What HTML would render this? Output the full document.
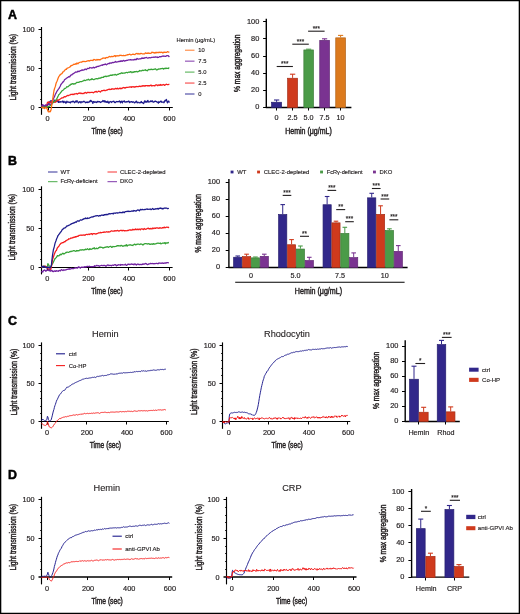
<!DOCTYPE html>
<html><head><meta charset="utf-8"><title>Figure</title>
<style>
html,body{margin:0;padding:0;background:#fff;width:520px;height:614px;overflow:hidden;}
svg{display:block;font-family:"Liberation Sans", sans-serif;will-change:transform;}
</style></head><body>
<svg width="520" height="614" viewBox="0 0 520 614">
<rect x="0" y="0" width="520" height="614" fill="#fff"/>
<path d="M0 0H520V614H0Z M1.3 1.3V612.7H518.7V1.3Z" fill="#000" fill-rule="evenodd"/>
<text x="8.1" y="19.2" font-size="12.4" text-anchor="start" fill="#000" stroke="#000" stroke-width="0.5" font-weight="bold">A</text>
<text x="8.1" y="165.2" font-size="12.4" text-anchor="start" fill="#000" stroke="#000" stroke-width="0.5" font-weight="bold">B</text>
<text x="8.1" y="324.7" font-size="12.4" text-anchor="start" fill="#000" stroke="#000" stroke-width="0.5" font-weight="bold">C</text>
<text x="8.1" y="478.7" font-size="12.4" text-anchor="start" fill="#000" stroke="#000" stroke-width="0.5" font-weight="bold">D</text>
<line x1="41.5" y1="27" x2="41.5" y2="114.8" stroke="#000" stroke-width="1.15"/>
<line x1="38.5" y1="107.5" x2="172.8" y2="107.5" stroke="#000" stroke-width="1.15"/>
<line x1="40.1" y1="99.5" x2="41.5" y2="99.5" stroke="#000" stroke-width="0.9"/>
<line x1="40.1" y1="91.5" x2="41.5" y2="91.5" stroke="#000" stroke-width="0.9"/>
<line x1="40.1" y1="83.5" x2="41.5" y2="83.5" stroke="#000" stroke-width="0.9"/>
<line x1="40.1" y1="76.5" x2="41.5" y2="76.5" stroke="#000" stroke-width="0.9"/>
<line x1="38.5" y1="68.5" x2="41.5" y2="68.5" stroke="#000" stroke-width="1"/>
<line x1="40.1" y1="60.5" x2="41.5" y2="60.5" stroke="#000" stroke-width="0.9"/>
<line x1="40.1" y1="52.5" x2="41.5" y2="52.5" stroke="#000" stroke-width="0.9"/>
<line x1="40.1" y1="45.5" x2="41.5" y2="45.5" stroke="#000" stroke-width="0.9"/>
<line x1="40.1" y1="37.5" x2="41.5" y2="37.5" stroke="#000" stroke-width="0.9"/>
<line x1="38.5" y1="29.5" x2="41.5" y2="29.5" stroke="#000" stroke-width="1"/>
<line x1="48.5" y1="107.5" x2="48.5" y2="110.5" stroke="#000" stroke-width="1"/>
<text x="47.6" y="120.8" font-size="7.35" text-anchor="middle" fill="#231f20" stroke="#231f20" stroke-width="0.18">0</text>
<line x1="88.5" y1="107.5" x2="88.5" y2="110.5" stroke="#000" stroke-width="1"/>
<text x="88.8" y="120.8" font-size="7.35" text-anchor="middle" fill="#231f20" stroke="#231f20" stroke-width="0.18">200</text>
<line x1="128.5" y1="107.5" x2="128.5" y2="110.5" stroke="#000" stroke-width="1"/>
<text x="129.1" y="120.8" font-size="7.35" text-anchor="middle" fill="#231f20" stroke="#231f20" stroke-width="0.18">400</text>
<line x1="169.5" y1="107.5" x2="169.5" y2="110.5" stroke="#000" stroke-width="1"/>
<text x="169.4" y="120.8" font-size="7.35" text-anchor="middle" fill="#231f20" stroke="#231f20" stroke-width="0.18">600</text>
<text x="34.5" y="109.6" font-size="7.25" text-anchor="end" fill="#231f20" stroke="#231f20" stroke-width="0.18">0</text>
<text x="34.5" y="70.95" font-size="7.25" text-anchor="end" fill="#231f20" stroke="#231f20" stroke-width="0.18">50</text>
<text x="34.5" y="32.3" font-size="7.25" text-anchor="end" fill="#231f20" stroke="#231f20" stroke-width="0.18">100</text>
<text x="107.15" y="133.6" font-size="8.4" text-anchor="middle" fill="#231f20" stroke="#231f20" stroke-width="0.44" textLength="31.4" lengthAdjust="spacingAndGlyphs">Time (sec)</text>
<text x="15.8" y="67.2" font-size="8.5" text-anchor="middle" fill="#231f20" stroke="#231f20" stroke-width="0.44" textLength="66.5" lengthAdjust="spacingAndGlyphs" transform="rotate(-90 15.8 67.2)">Light transmission (%)</text>
<text x="176.6" y="42" font-size="5.8" text-anchor="start" fill="#231f20" stroke="#231f20" stroke-width="0.15" textLength="38.5" lengthAdjust="spacingAndGlyphs">Hemin (μg/mL)</text>
<line x1="185" y1="50.2" x2="194.5" y2="50.2" stroke="#ff6b12" stroke-width="0.9"/>
<text x="198.3" y="52.2" font-size="5.8" text-anchor="start" fill="#231f20" stroke="#231f20" stroke-width="0.15">10</text>
<line x1="185" y1="61.15" x2="194.5" y2="61.15" stroke="#7020a0" stroke-width="0.9"/>
<text x="198.3" y="63.15" font-size="5.8" text-anchor="start" fill="#231f20" stroke="#231f20" stroke-width="0.15">7.5</text>
<line x1="185" y1="72.1" x2="194.5" y2="72.1" stroke="#36a336" stroke-width="0.9"/>
<text x="198.3" y="74.1" font-size="5.8" text-anchor="start" fill="#231f20" stroke="#231f20" stroke-width="0.15">5.0</text>
<line x1="185" y1="83.05" x2="194.5" y2="83.05" stroke="#f51d1d" stroke-width="0.9"/>
<text x="198.3" y="85.05" font-size="5.8" text-anchor="start" fill="#231f20" stroke="#231f20" stroke-width="0.15">2.5</text>
<line x1="185" y1="94" x2="194.5" y2="94" stroke="#1c1a8c" stroke-width="0.9"/>
<text x="198.3" y="96" font-size="5.8" text-anchor="start" fill="#231f20" stroke="#231f20" stroke-width="0.15">0</text>
<line x1="266.3" y1="18.8" x2="266.3" y2="108" stroke="#000" stroke-width="1.4"/>
<line x1="265.8" y1="107.5" x2="351.4" y2="107.5" stroke="#000" stroke-width="1.4"/>
<line x1="263.1" y1="107.5" x2="266.3" y2="107.5" stroke="#000" stroke-width="1"/>
<text x="259.3" y="109.4" font-size="7.4" text-anchor="end" fill="#231f20" stroke="#231f20" stroke-width="0.18">0</text>
<line x1="263.1" y1="90.5" x2="266.3" y2="90.5" stroke="#000" stroke-width="1"/>
<text x="259.3" y="92.34" font-size="7.4" text-anchor="end" fill="#231f20" stroke="#231f20" stroke-width="0.18">20</text>
<line x1="263.1" y1="73.5" x2="266.3" y2="73.5" stroke="#000" stroke-width="1"/>
<text x="259.3" y="75.28" font-size="7.4" text-anchor="end" fill="#231f20" stroke="#231f20" stroke-width="0.18">40</text>
<line x1="263.1" y1="56.5" x2="266.3" y2="56.5" stroke="#000" stroke-width="1"/>
<text x="259.3" y="58.22" font-size="7.4" text-anchor="end" fill="#231f20" stroke="#231f20" stroke-width="0.18">60</text>
<line x1="263.1" y1="38.5" x2="266.3" y2="38.5" stroke="#000" stroke-width="1"/>
<text x="259.3" y="41.16" font-size="7.4" text-anchor="end" fill="#231f20" stroke="#231f20" stroke-width="0.18">80</text>
<line x1="263.1" y1="21.5" x2="266.3" y2="21.5" stroke="#000" stroke-width="1"/>
<text x="259.3" y="24.1" font-size="7.4" text-anchor="end" fill="#231f20" stroke="#231f20" stroke-width="0.18">100</text>
<line x1="276.5" y1="107.5" x2="276.5" y2="110.5" stroke="#000" stroke-width="1"/>
<line x1="292.5" y1="107.5" x2="292.5" y2="110.5" stroke="#000" stroke-width="1"/>
<line x1="308.5" y1="107.5" x2="308.5" y2="110.5" stroke="#000" stroke-width="1"/>
<line x1="324.5" y1="107.5" x2="324.5" y2="110.5" stroke="#000" stroke-width="1"/>
<line x1="340.5" y1="107.5" x2="340.5" y2="110.5" stroke="#000" stroke-width="1"/>
<rect x="271.65" y="102.25" width="9.9" height="5.25" fill="#31278a" stroke="#271f6e" stroke-width="0.7"/>
<line x1="276.6" y1="101.9" x2="276.6" y2="100" stroke="#31278a" stroke-width="1"/>
<line x1="273.95" y1="100" x2="279.25" y2="100" stroke="#31278a" stroke-width="1.1"/>
<rect x="287.65" y="78.25" width="9.9" height="29.25" fill="#cf3a1d" stroke="#a52e17" stroke-width="0.7"/>
<line x1="292.6" y1="77.9" x2="292.6" y2="74.2" stroke="#cf3a1d" stroke-width="1"/>
<line x1="289.95" y1="74.2" x2="295.25" y2="74.2" stroke="#cf3a1d" stroke-width="1.1"/>
<rect x="303.85" y="49.95" width="9.6" height="57.55" fill="#4b9b48" stroke="#3c7c39" stroke-width="0.7"/>
<line x1="308.65" y1="49.6" x2="308.65" y2="49.2" stroke="#4b9b48" stroke-width="1"/>
<line x1="306.07" y1="49.2" x2="311.22" y2="49.2" stroke="#4b9b48" stroke-width="1.1"/>
<rect x="319.75" y="40.35" width="9.7" height="67.15" fill="#7a3391" stroke="#612874" stroke-width="0.7"/>
<line x1="324.6" y1="40" x2="324.6" y2="38.8" stroke="#7a3391" stroke-width="1"/>
<line x1="322" y1="38.8" x2="327.2" y2="38.8" stroke="#7a3391" stroke-width="1.1"/>
<rect x="335.75" y="37.85" width="9.7" height="69.65" fill="#dc7a1d" stroke="#b06117" stroke-width="0.7"/>
<line x1="340.6" y1="37.5" x2="340.6" y2="35.4" stroke="#dc7a1d" stroke-width="1"/>
<line x1="338" y1="35.4" x2="343.2" y2="35.4" stroke="#dc7a1d" stroke-width="1.1"/>
<line x1="276.7" y1="66.5" x2="292.9" y2="66.5" stroke="#231f20" stroke-width="1.1"/>
<text x="284.8" y="66.1" font-size="6.3" text-anchor="middle" fill="#231f20" stroke="#231f20" stroke-width="0.15">***</text>
<line x1="292.3" y1="44.2" x2="308.8" y2="44.2" stroke="#231f20" stroke-width="1.1"/>
<text x="300.55" y="43.8" font-size="6.3" text-anchor="middle" fill="#231f20" stroke="#231f20" stroke-width="0.15">***</text>
<line x1="308.1" y1="31.2" x2="324.6" y2="31.2" stroke="#231f20" stroke-width="1.1"/>
<text x="316.35" y="30.8" font-size="6.3" text-anchor="middle" fill="#231f20" stroke="#231f20" stroke-width="0.15">***</text>
<text x="276.6" y="120.3" font-size="7.2" text-anchor="middle" fill="#231f20" stroke="#231f20" stroke-width="0.18">0</text>
<text x="292.6" y="120.3" font-size="7.2" text-anchor="middle" fill="#231f20" stroke="#231f20" stroke-width="0.18">2.5</text>
<text x="308.6" y="120.3" font-size="7.2" text-anchor="middle" fill="#231f20" stroke="#231f20" stroke-width="0.18">5.0</text>
<text x="324.6" y="120.3" font-size="7.2" text-anchor="middle" fill="#231f20" stroke="#231f20" stroke-width="0.18">7.5</text>
<text x="340.6" y="120.3" font-size="7.2" text-anchor="middle" fill="#231f20" stroke="#231f20" stroke-width="0.18">10</text>
<text x="308.5" y="133.5" font-size="8.4" text-anchor="middle" fill="#231f20" stroke="#231f20" stroke-width="0.44" textLength="46.5" lengthAdjust="spacingAndGlyphs">Hemin (μg/mL)</text>
<text x="239.8" y="63.2" font-size="8.6" text-anchor="middle" fill="#231f20" stroke="#231f20" stroke-width="0.44" textLength="57.5" lengthAdjust="spacingAndGlyphs" transform="rotate(-90 239.8 63.2)">% max aggregation</text>
<line x1="41.5" y1="186.3" x2="41.5" y2="274.4" stroke="#000" stroke-width="1.15"/>
<line x1="38.5" y1="267.5" x2="172.6" y2="267.5" stroke="#000" stroke-width="1.15"/>
<line x1="40.1" y1="259.5" x2="41.5" y2="259.5" stroke="#000" stroke-width="0.9"/>
<line x1="40.1" y1="251.5" x2="41.5" y2="251.5" stroke="#000" stroke-width="0.9"/>
<line x1="40.1" y1="243.5" x2="41.5" y2="243.5" stroke="#000" stroke-width="0.9"/>
<line x1="40.1" y1="236.5" x2="41.5" y2="236.5" stroke="#000" stroke-width="0.9"/>
<line x1="38.5" y1="228.5" x2="41.5" y2="228.5" stroke="#000" stroke-width="1"/>
<line x1="40.1" y1="220.5" x2="41.5" y2="220.5" stroke="#000" stroke-width="0.9"/>
<line x1="40.1" y1="212.5" x2="41.5" y2="212.5" stroke="#000" stroke-width="0.9"/>
<line x1="40.1" y1="205.5" x2="41.5" y2="205.5" stroke="#000" stroke-width="0.9"/>
<line x1="40.1" y1="197.5" x2="41.5" y2="197.5" stroke="#000" stroke-width="0.9"/>
<line x1="38.5" y1="189.5" x2="41.5" y2="189.5" stroke="#000" stroke-width="1"/>
<line x1="47.5" y1="267.5" x2="47.5" y2="270.5" stroke="#000" stroke-width="1"/>
<text x="47.2" y="280.7" font-size="7.35" text-anchor="middle" fill="#231f20" stroke="#231f20" stroke-width="0.18">0</text>
<line x1="88.5" y1="267.5" x2="88.5" y2="270.5" stroke="#000" stroke-width="1"/>
<text x="88.5" y="280.7" font-size="7.35" text-anchor="middle" fill="#231f20" stroke="#231f20" stroke-width="0.18">200</text>
<line x1="128.5" y1="267.5" x2="128.5" y2="270.5" stroke="#000" stroke-width="1"/>
<text x="129" y="280.7" font-size="7.35" text-anchor="middle" fill="#231f20" stroke="#231f20" stroke-width="0.18">400</text>
<line x1="169.5" y1="267.5" x2="169.5" y2="270.5" stroke="#000" stroke-width="1"/>
<text x="169.4" y="280.7" font-size="7.35" text-anchor="middle" fill="#231f20" stroke="#231f20" stroke-width="0.18">600</text>
<text x="34.4" y="269.5" font-size="7.25" text-anchor="end" fill="#231f20" stroke="#231f20" stroke-width="0.18">0</text>
<text x="34.4" y="230.8" font-size="7.25" text-anchor="end" fill="#231f20" stroke="#231f20" stroke-width="0.18">50</text>
<text x="34.4" y="192.1" font-size="7.25" text-anchor="end" fill="#231f20" stroke="#231f20" stroke-width="0.18">100</text>
<text x="106.95" y="293.5" font-size="8.4" text-anchor="middle" fill="#231f20" stroke="#231f20" stroke-width="0.44" textLength="31.4" lengthAdjust="spacingAndGlyphs">Time (sec)</text>
<text x="15.5" y="227.3" font-size="8.5" text-anchor="middle" fill="#231f20" stroke="#231f20" stroke-width="0.44" textLength="66.5" lengthAdjust="spacingAndGlyphs" transform="rotate(-90 15.5 227.3)">Light transmission (%)</text>
<line x1="48" y1="172" x2="57.5" y2="172" stroke="#1c1a8c" stroke-width="0.9"/>
<text x="60.5" y="173.6" font-size="6" text-anchor="start" fill="#231f20" stroke="#231f20" stroke-width="0.15">WT</text>
<line x1="107.5" y1="172" x2="117" y2="172" stroke="#f51d1d" stroke-width="0.9"/>
<text x="120" y="173.6" font-size="6" text-anchor="start" fill="#231f20" stroke="#231f20" stroke-width="0.15" textLength="45.5" lengthAdjust="spacingAndGlyphs">CLEC-2-depleted</text>
<line x1="48" y1="181.7" x2="57.5" y2="181.7" stroke="#36a336" stroke-width="0.9"/>
<text x="60.5" y="183.3" font-size="6" text-anchor="start" fill="#231f20" stroke="#231f20" stroke-width="0.15" textLength="37" lengthAdjust="spacingAndGlyphs">FcRγ-deficient</text>
<line x1="107.5" y1="181.7" x2="117" y2="181.7" stroke="#7020a0" stroke-width="0.9"/>
<text x="120" y="183.3" font-size="6" text-anchor="start" fill="#231f20" stroke="#231f20" stroke-width="0.15">DKO</text>
<line x1="228.9" y1="179" x2="228.9" y2="268" stroke="#000" stroke-width="1.4"/>
<line x1="228.4" y1="267.5" x2="407.6" y2="267.5" stroke="#000" stroke-width="1.4"/>
<line x1="225.7" y1="267.5" x2="228.9" y2="267.5" stroke="#000" stroke-width="1"/>
<text x="220" y="269.3" font-size="7.4" text-anchor="end" fill="#231f20" stroke="#231f20" stroke-width="0.18">0</text>
<line x1="225.7" y1="250.5" x2="228.9" y2="250.5" stroke="#000" stroke-width="1"/>
<text x="220" y="252.3" font-size="7.4" text-anchor="end" fill="#231f20" stroke="#231f20" stroke-width="0.18">20</text>
<line x1="225.7" y1="233.5" x2="228.9" y2="233.5" stroke="#000" stroke-width="1"/>
<text x="220" y="235.3" font-size="7.4" text-anchor="end" fill="#231f20" stroke="#231f20" stroke-width="0.18">40</text>
<line x1="225.7" y1="216.5" x2="228.9" y2="216.5" stroke="#000" stroke-width="1"/>
<text x="220" y="218.3" font-size="7.4" text-anchor="end" fill="#231f20" stroke="#231f20" stroke-width="0.18">60</text>
<line x1="225.7" y1="199.5" x2="228.9" y2="199.5" stroke="#000" stroke-width="1"/>
<text x="220" y="201.3" font-size="7.4" text-anchor="end" fill="#231f20" stroke="#231f20" stroke-width="0.18">80</text>
<line x1="225.7" y1="182.5" x2="228.9" y2="182.5" stroke="#000" stroke-width="1"/>
<text x="220" y="184.3" font-size="7.4" text-anchor="end" fill="#231f20" stroke="#231f20" stroke-width="0.18">100</text>
<rect x="233.65" y="257.25" width="8.15" height="10.25" fill="#31278a" stroke="#271f6e" stroke-width="0.7"/>
<line x1="237.73" y1="256.9" x2="237.73" y2="256" stroke="#31278a" stroke-width="1"/>
<line x1="235.43" y1="256" x2="240.03" y2="256" stroke="#31278a" stroke-width="1.1"/>
<rect x="242.5" y="256.65" width="8.15" height="10.85" fill="#cf3a1d" stroke="#a52e17" stroke-width="0.7"/>
<line x1="246.57" y1="256.3" x2="246.57" y2="254.2" stroke="#cf3a1d" stroke-width="1"/>
<line x1="244.27" y1="254.2" x2="248.88" y2="254.2" stroke="#cf3a1d" stroke-width="1.1"/>
<rect x="251.35" y="257.85" width="8.15" height="9.65" fill="#4b9b48" stroke="#3c7c39" stroke-width="0.7"/>
<line x1="255.43" y1="257.5" x2="255.43" y2="257" stroke="#4b9b48" stroke-width="1"/>
<line x1="253.12" y1="257" x2="257.73" y2="257" stroke="#4b9b48" stroke-width="1.1"/>
<rect x="260.2" y="256.35" width="8.15" height="11.15" fill="#7a3391" stroke="#612874" stroke-width="0.7"/>
<line x1="264.28" y1="256" x2="264.28" y2="254.2" stroke="#7a3391" stroke-width="1"/>
<line x1="261.98" y1="254.2" x2="266.58" y2="254.2" stroke="#7a3391" stroke-width="1.1"/>
<rect x="278.65" y="214.55" width="8.15" height="52.95" fill="#31278a" stroke="#271f6e" stroke-width="0.7"/>
<line x1="282.73" y1="214.2" x2="282.73" y2="204.6" stroke="#31278a" stroke-width="1"/>
<line x1="280.43" y1="204.6" x2="285.03" y2="204.6" stroke="#31278a" stroke-width="1.1"/>
<rect x="287.5" y="244.75" width="8.15" height="22.75" fill="#cf3a1d" stroke="#a52e17" stroke-width="0.7"/>
<line x1="291.58" y1="244.4" x2="291.58" y2="239.6" stroke="#cf3a1d" stroke-width="1"/>
<line x1="289.28" y1="239.6" x2="293.88" y2="239.6" stroke="#cf3a1d" stroke-width="1.1"/>
<rect x="296.35" y="249.05" width="8.15" height="18.45" fill="#4b9b48" stroke="#3c7c39" stroke-width="0.7"/>
<line x1="300.43" y1="248.7" x2="300.43" y2="246" stroke="#4b9b48" stroke-width="1"/>
<line x1="298.12" y1="246" x2="302.73" y2="246" stroke="#4b9b48" stroke-width="1.1"/>
<rect x="305.2" y="260.55" width="8.15" height="6.95" fill="#7a3391" stroke="#612874" stroke-width="0.7"/>
<line x1="309.28" y1="260.2" x2="309.28" y2="257.3" stroke="#7a3391" stroke-width="1"/>
<line x1="306.98" y1="257.3" x2="311.58" y2="257.3" stroke="#7a3391" stroke-width="1.1"/>
<rect x="323.05" y="204.75" width="8.15" height="62.75" fill="#31278a" stroke="#271f6e" stroke-width="0.7"/>
<line x1="327.12" y1="204.4" x2="327.12" y2="196.5" stroke="#31278a" stroke-width="1"/>
<line x1="324.82" y1="196.5" x2="329.43" y2="196.5" stroke="#31278a" stroke-width="1.1"/>
<rect x="331.9" y="222.85" width="8.15" height="44.65" fill="#cf3a1d" stroke="#a52e17" stroke-width="0.7"/>
<line x1="335.98" y1="222.5" x2="335.98" y2="221.2" stroke="#cf3a1d" stroke-width="1"/>
<line x1="333.68" y1="221.2" x2="338.28" y2="221.2" stroke="#cf3a1d" stroke-width="1.1"/>
<rect x="340.75" y="233.45" width="8.15" height="34.05" fill="#4b9b48" stroke="#3c7c39" stroke-width="0.7"/>
<line x1="344.82" y1="233.1" x2="344.82" y2="227.3" stroke="#4b9b48" stroke-width="1"/>
<line x1="342.52" y1="227.3" x2="347.12" y2="227.3" stroke="#4b9b48" stroke-width="1.1"/>
<rect x="349.6" y="257.65" width="8.15" height="9.85" fill="#7a3391" stroke="#612874" stroke-width="0.7"/>
<line x1="353.68" y1="257.3" x2="353.68" y2="252.9" stroke="#7a3391" stroke-width="1"/>
<line x1="351.38" y1="252.9" x2="355.98" y2="252.9" stroke="#7a3391" stroke-width="1.1"/>
<rect x="367.65" y="197.85" width="8.15" height="69.65" fill="#31278a" stroke="#271f6e" stroke-width="0.7"/>
<line x1="371.73" y1="197.5" x2="371.73" y2="193.3" stroke="#31278a" stroke-width="1"/>
<line x1="369.43" y1="193.3" x2="374.03" y2="193.3" stroke="#31278a" stroke-width="1.1"/>
<rect x="376.5" y="214.35" width="8.15" height="53.15" fill="#cf3a1d" stroke="#a52e17" stroke-width="0.7"/>
<line x1="380.58" y1="214" x2="380.58" y2="205.8" stroke="#cf3a1d" stroke-width="1"/>
<line x1="378.28" y1="205.8" x2="382.88" y2="205.8" stroke="#cf3a1d" stroke-width="1.1"/>
<rect x="385.35" y="230.55" width="8.15" height="36.95" fill="#4b9b48" stroke="#3c7c39" stroke-width="0.7"/>
<line x1="389.43" y1="230.2" x2="389.43" y2="228.8" stroke="#4b9b48" stroke-width="1"/>
<line x1="387.12" y1="228.8" x2="391.73" y2="228.8" stroke="#4b9b48" stroke-width="1.1"/>
<rect x="394.2" y="251.35" width="8.15" height="16.15" fill="#7a3391" stroke="#612874" stroke-width="0.7"/>
<line x1="398.28" y1="251" x2="398.28" y2="245.6" stroke="#7a3391" stroke-width="1"/>
<line x1="395.98" y1="245.6" x2="400.58" y2="245.6" stroke="#7a3391" stroke-width="1.1"/>
<line x1="282.7" y1="195.4" x2="291.3" y2="195.4" stroke="#231f20" stroke-width="1.1"/>
<text x="287" y="195" font-size="6.3" text-anchor="middle" fill="#231f20" stroke="#231f20" stroke-width="0.15">***</text>
<line x1="300" y1="236.3" x2="309" y2="236.3" stroke="#231f20" stroke-width="1.1"/>
<text x="304.5" y="235.9" font-size="6.3" text-anchor="middle" fill="#231f20" stroke="#231f20" stroke-width="0.15">**</text>
<line x1="327.5" y1="190.4" x2="336.2" y2="190.4" stroke="#231f20" stroke-width="1.1"/>
<text x="331.85" y="190" font-size="6.3" text-anchor="middle" fill="#231f20" stroke="#231f20" stroke-width="0.15">***</text>
<line x1="336.2" y1="209.6" x2="345.2" y2="209.6" stroke="#231f20" stroke-width="1.1"/>
<text x="340.7" y="209.2" font-size="6.3" text-anchor="middle" fill="#231f20" stroke="#231f20" stroke-width="0.15">**</text>
<line x1="345.2" y1="221.7" x2="353.8" y2="221.7" stroke="#231f20" stroke-width="1.1"/>
<text x="349.5" y="221.3" font-size="6.3" text-anchor="middle" fill="#231f20" stroke="#231f20" stroke-width="0.15">***</text>
<line x1="371.9" y1="188.5" x2="380.6" y2="188.5" stroke="#231f20" stroke-width="1.1"/>
<text x="376.25" y="188.1" font-size="6.3" text-anchor="middle" fill="#231f20" stroke="#231f20" stroke-width="0.15">***</text>
<line x1="380.6" y1="199" x2="389.2" y2="199" stroke="#231f20" stroke-width="1.1"/>
<text x="384.9" y="198.6" font-size="6.3" text-anchor="middle" fill="#231f20" stroke="#231f20" stroke-width="0.15">***</text>
<line x1="389.4" y1="219.8" x2="398.3" y2="219.8" stroke="#231f20" stroke-width="1.1"/>
<text x="393.85" y="219.4" font-size="6.3" text-anchor="middle" fill="#231f20" stroke="#231f20" stroke-width="0.15">***</text>
<text x="250.9" y="277.9" font-size="7.2" text-anchor="middle" fill="#231f20" stroke="#231f20" stroke-width="0.18">0</text>
<text x="295.4" y="277.9" font-size="7.2" text-anchor="middle" fill="#231f20" stroke="#231f20" stroke-width="0.18">5.0</text>
<text x="340" y="277.9" font-size="7.2" text-anchor="middle" fill="#231f20" stroke="#231f20" stroke-width="0.18">7.5</text>
<text x="384.8" y="277.9" font-size="7.2" text-anchor="middle" fill="#231f20" stroke="#231f20" stroke-width="0.18">10</text>
<line x1="235.2" y1="282.3" x2="404.6" y2="282.3" stroke="#000" stroke-width="1.1"/>
<text x="318.5" y="293.8" font-size="8.4" text-anchor="middle" fill="#231f20" stroke="#231f20" stroke-width="0.44" textLength="47.3" lengthAdjust="spacingAndGlyphs">Hemin (μg/mL)</text>
<text x="201.2" y="223.3" font-size="8.6" text-anchor="middle" fill="#231f20" stroke="#231f20" stroke-width="0.44" textLength="58.5" lengthAdjust="spacingAndGlyphs" transform="rotate(-90 201.2 223.3)">% max aggregation</text>
<rect x="230.6" y="170.6" width="2.9" height="2.8" fill="#31278a"/>
<text x="237.2" y="174" font-size="5.9" text-anchor="start" fill="#231f20" stroke="#231f20" stroke-width="0.15">WT</text>
<rect x="257.1" y="170.6" width="2.9" height="2.8" fill="#cf3a1d"/>
<text x="263.7" y="174" font-size="5.9" text-anchor="start" fill="#231f20" stroke="#231f20" stroke-width="0.15" textLength="45.6" lengthAdjust="spacingAndGlyphs">CLEC-2-depleted</text>
<rect x="320.1" y="170.6" width="2.9" height="2.8" fill="#4b9b48"/>
<text x="326.7" y="174" font-size="5.9" text-anchor="start" fill="#231f20" stroke="#231f20" stroke-width="0.15" textLength="36" lengthAdjust="spacingAndGlyphs">FcRγ-deficient</text>
<rect x="373" y="170.6" width="2.9" height="2.8" fill="#7a3391"/>
<text x="379.6" y="174" font-size="5.9" text-anchor="start" fill="#231f20" stroke="#231f20" stroke-width="0.15">DKO</text>
<line x1="41.5" y1="342.4" x2="41.5" y2="428.8" stroke="#000" stroke-width="1.15"/>
<line x1="38.5" y1="421.5" x2="168.8" y2="421.5" stroke="#000" stroke-width="1.15"/>
<line x1="40.1" y1="413.5" x2="41.5" y2="413.5" stroke="#000" stroke-width="0.9"/>
<line x1="40.1" y1="406.5" x2="41.5" y2="406.5" stroke="#000" stroke-width="0.9"/>
<line x1="40.1" y1="398.5" x2="41.5" y2="398.5" stroke="#000" stroke-width="0.9"/>
<line x1="40.1" y1="391.5" x2="41.5" y2="391.5" stroke="#000" stroke-width="0.9"/>
<line x1="38.5" y1="383.5" x2="41.5" y2="383.5" stroke="#000" stroke-width="1"/>
<line x1="40.1" y1="375.5" x2="41.5" y2="375.5" stroke="#000" stroke-width="0.9"/>
<line x1="40.1" y1="368.5" x2="41.5" y2="368.5" stroke="#000" stroke-width="0.9"/>
<line x1="40.1" y1="360.5" x2="41.5" y2="360.5" stroke="#000" stroke-width="0.9"/>
<line x1="40.1" y1="353.5" x2="41.5" y2="353.5" stroke="#000" stroke-width="0.9"/>
<line x1="38.5" y1="345.5" x2="41.5" y2="345.5" stroke="#000" stroke-width="1"/>
<line x1="47.5" y1="421.5" x2="47.5" y2="424.5" stroke="#000" stroke-width="1"/>
<text x="47" y="434.9" font-size="7.35" text-anchor="middle" fill="#231f20" stroke="#231f20" stroke-width="0.18">0</text>
<line x1="86.5" y1="421.5" x2="86.5" y2="424.5" stroke="#000" stroke-width="1"/>
<text x="87" y="434.9" font-size="7.35" text-anchor="middle" fill="#231f20" stroke="#231f20" stroke-width="0.18">200</text>
<line x1="126.5" y1="421.5" x2="126.5" y2="424.5" stroke="#000" stroke-width="1"/>
<text x="127.1" y="434.9" font-size="7.35" text-anchor="middle" fill="#231f20" stroke="#231f20" stroke-width="0.18">400</text>
<line x1="166.5" y1="421.5" x2="166.5" y2="424.5" stroke="#000" stroke-width="1"/>
<text x="166.5" y="434.9" font-size="7.35" text-anchor="middle" fill="#231f20" stroke="#231f20" stroke-width="0.18">600</text>
<text x="34.5" y="423.7" font-size="7.25" text-anchor="end" fill="#231f20" stroke="#231f20" stroke-width="0.18">0</text>
<text x="34.5" y="385.95" font-size="7.25" text-anchor="end" fill="#231f20" stroke="#231f20" stroke-width="0.18">50</text>
<text x="34.5" y="348.2" font-size="7.25" text-anchor="end" fill="#231f20" stroke="#231f20" stroke-width="0.18">100</text>
<text x="105.4" y="447.7" font-size="8.4" text-anchor="middle" fill="#231f20" stroke="#231f20" stroke-width="0.44" textLength="31.4" lengthAdjust="spacingAndGlyphs">Time (sec)</text>
<text x="16.5" y="382" font-size="8.5" text-anchor="middle" fill="#231f20" stroke="#231f20" stroke-width="0.44" textLength="66.5" lengthAdjust="spacingAndGlyphs" transform="rotate(-90 16.5 382)">Light transmission (%)</text>
<text x="105.3" y="336.6" font-size="9.2" text-anchor="middle" fill="#231f20" stroke="#231f20" stroke-width="0.12">Hemin</text>
<line x1="56" y1="353.8" x2="65" y2="353.8" stroke="#1c1a8c" stroke-width="1.1"/>
<text x="68.8" y="355.8" font-size="5.9" text-anchor="start" fill="#231f20" stroke="#231f20" stroke-width="0.15">ctrl</text>
<line x1="56" y1="365.6" x2="65" y2="365.6" stroke="#f51d1d" stroke-width="1.1"/>
<text x="68.8" y="367.6" font-size="5.9" text-anchor="start" fill="#231f20" stroke="#231f20" stroke-width="0.15">Co-HP</text>
<line x1="222.5" y1="342.4" x2="222.5" y2="428.8" stroke="#000" stroke-width="1.15"/>
<line x1="219.5" y1="421.5" x2="350.3" y2="421.5" stroke="#000" stroke-width="1.15"/>
<line x1="221.1" y1="413.5" x2="222.5" y2="413.5" stroke="#000" stroke-width="0.9"/>
<line x1="221.1" y1="406.5" x2="222.5" y2="406.5" stroke="#000" stroke-width="0.9"/>
<line x1="221.1" y1="398.5" x2="222.5" y2="398.5" stroke="#000" stroke-width="0.9"/>
<line x1="221.1" y1="391.5" x2="222.5" y2="391.5" stroke="#000" stroke-width="0.9"/>
<line x1="219.5" y1="383.5" x2="222.5" y2="383.5" stroke="#000" stroke-width="1"/>
<line x1="221.1" y1="375.5" x2="222.5" y2="375.5" stroke="#000" stroke-width="0.9"/>
<line x1="221.1" y1="368.5" x2="222.5" y2="368.5" stroke="#000" stroke-width="0.9"/>
<line x1="221.1" y1="360.5" x2="222.5" y2="360.5" stroke="#000" stroke-width="0.9"/>
<line x1="221.1" y1="353.5" x2="222.5" y2="353.5" stroke="#000" stroke-width="0.9"/>
<line x1="219.5" y1="345.5" x2="222.5" y2="345.5" stroke="#000" stroke-width="1"/>
<line x1="229.5" y1="421.5" x2="229.5" y2="424.5" stroke="#000" stroke-width="1"/>
<text x="228.7" y="435.1" font-size="7.35" text-anchor="middle" fill="#231f20" stroke="#231f20" stroke-width="0.18">0</text>
<line x1="268.5" y1="421.5" x2="268.5" y2="424.5" stroke="#000" stroke-width="1"/>
<text x="269.1" y="435.1" font-size="7.35" text-anchor="middle" fill="#231f20" stroke="#231f20" stroke-width="0.18">200</text>
<line x1="308.5" y1="421.5" x2="308.5" y2="424.5" stroke="#000" stroke-width="1"/>
<text x="308.9" y="435.1" font-size="7.35" text-anchor="middle" fill="#231f20" stroke="#231f20" stroke-width="0.18">400</text>
<line x1="347.5" y1="421.5" x2="347.5" y2="424.5" stroke="#000" stroke-width="1"/>
<text x="348.2" y="435.1" font-size="7.35" text-anchor="middle" fill="#231f20" stroke="#231f20" stroke-width="0.18">600</text>
<text x="215.9" y="423.9" font-size="7.25" text-anchor="end" fill="#231f20" stroke="#231f20" stroke-width="0.18">0</text>
<text x="215.9" y="386.05" font-size="7.25" text-anchor="end" fill="#231f20" stroke="#231f20" stroke-width="0.18">50</text>
<text x="215.9" y="348.2" font-size="7.25" text-anchor="end" fill="#231f20" stroke="#231f20" stroke-width="0.18">100</text>
<text x="287.1" y="447.9" font-size="8.4" text-anchor="middle" fill="#231f20" stroke="#231f20" stroke-width="0.44" textLength="31.4" lengthAdjust="spacingAndGlyphs">Time (sec)</text>
<text x="197" y="381.7" font-size="8.5" text-anchor="middle" fill="#231f20" stroke="#231f20" stroke-width="0.44" textLength="66.5" lengthAdjust="spacingAndGlyphs" transform="rotate(-90 197 381.7)">Light transmission (%)</text>
<text x="287" y="336.6" font-size="9.2" text-anchor="middle" fill="#231f20" stroke="#231f20" stroke-width="0.12">Rhodocytin</text>
<line x1="405.2" y1="340.2" x2="405.2" y2="422" stroke="#000" stroke-width="1.4"/>
<line x1="404.7" y1="421.5" x2="459.8" y2="421.5" stroke="#000" stroke-width="1.4"/>
<line x1="402" y1="421.5" x2="405.2" y2="421.5" stroke="#000" stroke-width="1"/>
<text x="398.4" y="423.4" font-size="7.4" text-anchor="end" fill="#231f20" stroke="#231f20" stroke-width="0.18">0</text>
<line x1="402" y1="406.5" x2="405.2" y2="406.5" stroke="#000" stroke-width="1"/>
<text x="398.4" y="408.4" font-size="7.4" text-anchor="end" fill="#231f20" stroke="#231f20" stroke-width="0.18">20</text>
<line x1="402" y1="391.5" x2="405.2" y2="391.5" stroke="#000" stroke-width="1"/>
<text x="398.4" y="393.4" font-size="7.4" text-anchor="end" fill="#231f20" stroke="#231f20" stroke-width="0.18">40</text>
<line x1="402" y1="376.5" x2="405.2" y2="376.5" stroke="#000" stroke-width="1"/>
<text x="398.4" y="378.4" font-size="7.4" text-anchor="end" fill="#231f20" stroke="#231f20" stroke-width="0.18">60</text>
<line x1="402" y1="361.5" x2="405.2" y2="361.5" stroke="#000" stroke-width="1"/>
<text x="398.4" y="363.4" font-size="7.4" text-anchor="end" fill="#231f20" stroke="#231f20" stroke-width="0.18">80</text>
<line x1="402" y1="346.5" x2="405.2" y2="346.5" stroke="#000" stroke-width="1"/>
<text x="398.4" y="348.4" font-size="7.4" text-anchor="end" fill="#231f20" stroke="#231f20" stroke-width="0.18">100</text>
<line x1="418.5" y1="421.5" x2="418.5" y2="424.5" stroke="#000" stroke-width="1"/>
<line x1="445.5" y1="421.5" x2="445.5" y2="424.5" stroke="#000" stroke-width="1"/>
<rect x="409.55" y="379.25" width="8.9" height="42.25" fill="#31278a" stroke="#271f6e" stroke-width="0.7"/>
<line x1="414" y1="378.9" x2="414" y2="366.2" stroke="#31278a" stroke-width="1"/>
<line x1="411.5" y1="366.2" x2="416.5" y2="366.2" stroke="#31278a" stroke-width="1.1"/>
<rect x="419.15" y="412.25" width="9" height="9.25" fill="#cf3a1d" stroke="#a52e17" stroke-width="0.7"/>
<line x1="423.65" y1="411.9" x2="423.65" y2="407.3" stroke="#cf3a1d" stroke-width="1"/>
<line x1="421.15" y1="407.3" x2="426.15" y2="407.3" stroke="#cf3a1d" stroke-width="1.1"/>
<rect x="437.25" y="344.65" width="8.5" height="76.85" fill="#31278a" stroke="#271f6e" stroke-width="0.7"/>
<line x1="441.5" y1="344.3" x2="441.5" y2="340.4" stroke="#31278a" stroke-width="1"/>
<line x1="439" y1="340.4" x2="444" y2="340.4" stroke="#31278a" stroke-width="1.1"/>
<rect x="446.45" y="411.85" width="8.5" height="9.65" fill="#cf3a1d" stroke="#a52e17" stroke-width="0.7"/>
<line x1="450.7" y1="411.5" x2="450.7" y2="406.9" stroke="#cf3a1d" stroke-width="1"/>
<line x1="448.2" y1="406.9" x2="453.2" y2="406.9" stroke="#cf3a1d" stroke-width="1.1"/>
<line x1="415.4" y1="363.5" x2="425.1" y2="363.5" stroke="#231f20" stroke-width="1.1"/>
<text x="420.25" y="363.1" font-size="6.3" text-anchor="middle" fill="#231f20" stroke="#231f20" stroke-width="0.15">*</text>
<line x1="441.9" y1="337.4" x2="451.6" y2="337.4" stroke="#231f20" stroke-width="1.1"/>
<text x="446.75" y="337" font-size="6.3" text-anchor="middle" fill="#231f20" stroke="#231f20" stroke-width="0.15">***</text>
<text x="418.8" y="434.8" font-size="7.2" text-anchor="middle" fill="#231f20" stroke="#231f20" stroke-width="0.18">Hemin</text>
<text x="445.8" y="434.8" font-size="7.2" text-anchor="middle" fill="#231f20" stroke="#231f20" stroke-width="0.18">Rhod</text>
<text x="379.2" y="380.4" font-size="8.6" text-anchor="middle" fill="#231f20" stroke="#231f20" stroke-width="0.44" textLength="57.2" lengthAdjust="spacingAndGlyphs" transform="rotate(-90 379.2 380.4)">% max aggregation</text>
<rect x="469.1" y="367.7" width="9.5" height="4" fill="#31278a"/>
<rect x="469.1" y="377.8" width="9.5" height="4.1" fill="#cf3a1d"/>
<text x="482.1" y="371.9" font-size="6" text-anchor="start" fill="#231f20" stroke="#231f20" stroke-width="0.15">ctrl</text>
<text x="482.1" y="381.9" font-size="6" text-anchor="start" fill="#231f20" stroke="#231f20" stroke-width="0.15">Co-HP</text>
<line x1="41.5" y1="496.8" x2="41.5" y2="584.4" stroke="#000" stroke-width="1.15"/>
<line x1="38.5" y1="577.05" x2="172.2" y2="577.05" stroke="#000" stroke-width="1.4"/>
<line x1="40.1" y1="569.5" x2="41.5" y2="569.5" stroke="#000" stroke-width="0.9"/>
<line x1="40.1" y1="561.5" x2="41.5" y2="561.5" stroke="#000" stroke-width="0.9"/>
<line x1="40.1" y1="553.5" x2="41.5" y2="553.5" stroke="#000" stroke-width="0.9"/>
<line x1="40.1" y1="546.5" x2="41.5" y2="546.5" stroke="#000" stroke-width="0.9"/>
<line x1="38.5" y1="538.5" x2="41.5" y2="538.5" stroke="#000" stroke-width="1"/>
<line x1="40.1" y1="530.5" x2="41.5" y2="530.5" stroke="#000" stroke-width="0.9"/>
<line x1="40.1" y1="522.5" x2="41.5" y2="522.5" stroke="#000" stroke-width="0.9"/>
<line x1="40.1" y1="515.5" x2="41.5" y2="515.5" stroke="#000" stroke-width="0.9"/>
<line x1="40.1" y1="507.5" x2="41.5" y2="507.5" stroke="#000" stroke-width="0.9"/>
<line x1="38.5" y1="499.5" x2="41.5" y2="499.5" stroke="#000" stroke-width="1"/>
<line x1="47.5" y1="577.05" x2="47.5" y2="580.05" stroke="#000" stroke-width="1"/>
<text x="47" y="590.7" font-size="7.35" text-anchor="middle" fill="#231f20" stroke="#231f20" stroke-width="0.18">0</text>
<line x1="87.5" y1="577.05" x2="87.5" y2="580.05" stroke="#000" stroke-width="1"/>
<text x="88.1" y="590.7" font-size="7.35" text-anchor="middle" fill="#231f20" stroke="#231f20" stroke-width="0.18">200</text>
<line x1="128.5" y1="577.05" x2="128.5" y2="580.05" stroke="#000" stroke-width="1"/>
<text x="129.2" y="590.7" font-size="7.35" text-anchor="middle" fill="#231f20" stroke="#231f20" stroke-width="0.18">400</text>
<line x1="169.5" y1="577.05" x2="169.5" y2="580.05" stroke="#000" stroke-width="1"/>
<text x="169.9" y="590.7" font-size="7.35" text-anchor="middle" fill="#231f20" stroke="#231f20" stroke-width="0.18">600</text>
<text x="34.5" y="579.5" font-size="7.25" text-anchor="end" fill="#231f20" stroke="#231f20" stroke-width="0.18">0</text>
<text x="34.5" y="540.9" font-size="7.25" text-anchor="end" fill="#231f20" stroke="#231f20" stroke-width="0.18">50</text>
<text x="34.5" y="502.3" font-size="7.25" text-anchor="end" fill="#231f20" stroke="#231f20" stroke-width="0.18">100</text>
<text x="107.1" y="603.5" font-size="8.4" text-anchor="middle" fill="#231f20" stroke="#231f20" stroke-width="0.44" textLength="31.4" lengthAdjust="spacingAndGlyphs">Time (sec)</text>
<text x="15.6" y="537.3" font-size="8.5" text-anchor="middle" fill="#231f20" stroke="#231f20" stroke-width="0.44" textLength="66.5" lengthAdjust="spacingAndGlyphs" transform="rotate(-90 15.6 537.3)">Light transmission (%)</text>
<text x="106.9" y="490.8" font-size="9.2" text-anchor="middle" fill="#231f20" stroke="#231f20" stroke-width="0.12">Hemin</text>
<line x1="112.5" y1="536.2" x2="121.8" y2="536.2" stroke="#1c1a8c" stroke-width="1.1"/>
<text x="125.3" y="538.2" font-size="5.9" text-anchor="start" fill="#231f20" stroke="#231f20" stroke-width="0.15">ctrl</text>
<line x1="112.5" y1="549" x2="121.8" y2="549" stroke="#f51d1d" stroke-width="1.1"/>
<text x="125.3" y="551" font-size="5.9" text-anchor="start" fill="#231f20" stroke="#231f20" stroke-width="0.15" textLength="34.5" lengthAdjust="spacingAndGlyphs">anti-GPVI Ab</text>
<line x1="226.5" y1="496.9" x2="226.5" y2="584.4" stroke="#000" stroke-width="1.15"/>
<line x1="223.5" y1="577" x2="356.5" y2="577" stroke="#000" stroke-width="1.4"/>
<line x1="225.1" y1="569.5" x2="226.5" y2="569.5" stroke="#000" stroke-width="0.9"/>
<line x1="225.1" y1="561.5" x2="226.5" y2="561.5" stroke="#000" stroke-width="0.9"/>
<line x1="225.1" y1="553.5" x2="226.5" y2="553.5" stroke="#000" stroke-width="0.9"/>
<line x1="225.1" y1="546.5" x2="226.5" y2="546.5" stroke="#000" stroke-width="0.9"/>
<line x1="223.5" y1="538.5" x2="226.5" y2="538.5" stroke="#000" stroke-width="1"/>
<line x1="225.1" y1="530.5" x2="226.5" y2="530.5" stroke="#000" stroke-width="0.9"/>
<line x1="225.1" y1="522.5" x2="226.5" y2="522.5" stroke="#000" stroke-width="0.9"/>
<line x1="225.1" y1="515.5" x2="226.5" y2="515.5" stroke="#000" stroke-width="0.9"/>
<line x1="225.1" y1="507.5" x2="226.5" y2="507.5" stroke="#000" stroke-width="0.9"/>
<line x1="223.5" y1="499.5" x2="226.5" y2="499.5" stroke="#000" stroke-width="1"/>
<line x1="232.5" y1="577" x2="232.5" y2="580" stroke="#000" stroke-width="1"/>
<text x="231.8" y="590.7" font-size="7.35" text-anchor="middle" fill="#231f20" stroke="#231f20" stroke-width="0.18">0</text>
<line x1="273.5" y1="577" x2="273.5" y2="580" stroke="#000" stroke-width="1"/>
<text x="273.3" y="590.7" font-size="7.35" text-anchor="middle" fill="#231f20" stroke="#231f20" stroke-width="0.18">200</text>
<line x1="313.5" y1="577" x2="313.5" y2="580" stroke="#000" stroke-width="1"/>
<text x="313.7" y="590.7" font-size="7.35" text-anchor="middle" fill="#231f20" stroke="#231f20" stroke-width="0.18">400</text>
<line x1="353.5" y1="577" x2="353.5" y2="580" stroke="#000" stroke-width="1"/>
<text x="354.1" y="590.7" font-size="7.35" text-anchor="middle" fill="#231f20" stroke="#231f20" stroke-width="0.18">600</text>
<text x="219.6" y="579.5" font-size="7.25" text-anchor="end" fill="#231f20" stroke="#231f20" stroke-width="0.18">0</text>
<text x="219.6" y="540.8" font-size="7.25" text-anchor="end" fill="#231f20" stroke="#231f20" stroke-width="0.18">50</text>
<text x="219.6" y="502.1" font-size="7.25" text-anchor="end" fill="#231f20" stroke="#231f20" stroke-width="0.18">100</text>
<text x="291.6" y="603.5" font-size="8.4" text-anchor="middle" fill="#231f20" stroke="#231f20" stroke-width="0.44" textLength="31.4" lengthAdjust="spacingAndGlyphs">Time (sec)</text>
<text x="201.7" y="537.3" font-size="8.5" text-anchor="middle" fill="#231f20" stroke="#231f20" stroke-width="0.44" textLength="66.5" lengthAdjust="spacingAndGlyphs" transform="rotate(-90 201.7 537.3)">Light transmission (%)</text>
<text x="291.9" y="490.8" font-size="9.2" text-anchor="middle" fill="#231f20" stroke="#231f20" stroke-width="0.12">CRP</text>
<line x1="411.6" y1="489" x2="411.6" y2="577.55" stroke="#000" stroke-width="1.4"/>
<line x1="411.1" y1="577.05" x2="469.3" y2="577.05" stroke="#000" stroke-width="1.35"/>
<line x1="408.4" y1="577.5" x2="411.6" y2="577.5" stroke="#000" stroke-width="1"/>
<text x="404.4" y="579.25" font-size="7.4" text-anchor="end" fill="#231f20" stroke="#231f20" stroke-width="0.18">0</text>
<line x1="408.4" y1="560.5" x2="411.6" y2="560.5" stroke="#000" stroke-width="1"/>
<text x="404.4" y="562.2" font-size="7.4" text-anchor="end" fill="#231f20" stroke="#231f20" stroke-width="0.18">20</text>
<line x1="408.4" y1="542.5" x2="411.6" y2="542.5" stroke="#000" stroke-width="1"/>
<text x="404.4" y="545.15" font-size="7.4" text-anchor="end" fill="#231f20" stroke="#231f20" stroke-width="0.18">40</text>
<line x1="408.4" y1="525.5" x2="411.6" y2="525.5" stroke="#000" stroke-width="1"/>
<text x="404.4" y="528.1" font-size="7.4" text-anchor="end" fill="#231f20" stroke="#231f20" stroke-width="0.18">60</text>
<line x1="408.4" y1="508.5" x2="411.6" y2="508.5" stroke="#000" stroke-width="1"/>
<text x="404.4" y="511.05" font-size="7.4" text-anchor="end" fill="#231f20" stroke="#231f20" stroke-width="0.18">80</text>
<line x1="408.4" y1="491.5" x2="411.6" y2="491.5" stroke="#000" stroke-width="1"/>
<text x="404.4" y="494" font-size="7.4" text-anchor="end" fill="#231f20" stroke="#231f20" stroke-width="0.18">100</text>
<line x1="425.5" y1="577.5" x2="425.5" y2="580.5" stroke="#000" stroke-width="1"/>
<line x1="454.5" y1="577.5" x2="454.5" y2="580.5" stroke="#000" stroke-width="1"/>
<rect x="416.35" y="528.65" width="8.8" height="48.85" fill="#31278a" stroke="#271f6e" stroke-width="0.7"/>
<line x1="420.75" y1="528.3" x2="420.75" y2="519.1" stroke="#31278a" stroke-width="1"/>
<line x1="418.25" y1="519.1" x2="423.25" y2="519.1" stroke="#31278a" stroke-width="1.1"/>
<rect x="425.85" y="556.35" width="9.2" height="21.15" fill="#cf3a1d" stroke="#a52e17" stroke-width="0.7"/>
<line x1="430.45" y1="556" x2="430.45" y2="553.2" stroke="#cf3a1d" stroke-width="1"/>
<line x1="427.95" y1="553.2" x2="432.95" y2="553.2" stroke="#cf3a1d" stroke-width="1.1"/>
<rect x="444.95" y="509.55" width="8.9" height="67.95" fill="#31278a" stroke="#271f6e" stroke-width="0.7"/>
<line x1="449.4" y1="509.2" x2="449.4" y2="505.5" stroke="#31278a" stroke-width="1"/>
<line x1="446.9" y1="505.5" x2="451.9" y2="505.5" stroke="#31278a" stroke-width="1.1"/>
<rect x="454.55" y="566.55" width="8.8" height="10.95" fill="#cf3a1d" stroke="#a52e17" stroke-width="0.7"/>
<line x1="458.95" y1="566.2" x2="458.95" y2="564.6" stroke="#cf3a1d" stroke-width="1"/>
<line x1="456.45" y1="564.6" x2="461.45" y2="564.6" stroke="#cf3a1d" stroke-width="1.1"/>
<line x1="421" y1="511.3" x2="430.8" y2="511.3" stroke="#231f20" stroke-width="1.1"/>
<text x="425.9" y="510.9" font-size="6.3" text-anchor="middle" fill="#231f20" stroke="#231f20" stroke-width="0.15">*</text>
<line x1="449.8" y1="500.3" x2="460" y2="500.3" stroke="#231f20" stroke-width="1.1"/>
<text x="454.9" y="499.9" font-size="6.3" text-anchor="middle" fill="#231f20" stroke="#231f20" stroke-width="0.15">***</text>
<text x="426.2" y="591" font-size="7.2" text-anchor="middle" fill="#231f20" stroke="#231f20" stroke-width="0.18">Hemin</text>
<text x="454.5" y="591" font-size="7.2" text-anchor="middle" fill="#231f20" stroke="#231f20" stroke-width="0.18">CRP</text>
<text x="385.6" y="533.4" font-size="8.6" text-anchor="middle" fill="#231f20" stroke="#231f20" stroke-width="0.44" textLength="57.8" lengthAdjust="spacingAndGlyphs" transform="rotate(-90 385.6 533.4)">% max aggregation</text>
<rect x="466.2" y="514.8" width="9.2" height="4.3" fill="#31278a"/>
<rect x="466.2" y="526.2" width="9.2" height="4" fill="#cf3a1d"/>
<text x="477.8" y="519" font-size="6" text-anchor="start" fill="#231f20" stroke="#231f20" stroke-width="0.15">ctrl</text>
<text x="477.8" y="530.4" font-size="6" text-anchor="start" fill="#231f20" stroke="#231f20" stroke-width="0.15" textLength="35" lengthAdjust="spacingAndGlyphs">anti-GPVI Ab</text>
<path d="M41.4 106.64 L41.9 106.76 L42.4 106.32 L42.9 105.87 L43.4 105.98 L43.9 105.8 L44.4 106.56 L44.9 107.25 L45.4 106.14 L45.9 105.88 L46.4 106.51 L46.9 106.27 L47.4 105.29 L47.9 104 L48.4 104.01 L48.9 103.75 L49.4 102.12 L49.9 101.87 L50.4 100.95 L50.9 100.92 L51.4 100.73 L51.9 101.47 L52.4 101.14 L52.9 101.95 L53.4 102.02 L53.9 101.44 L54.4 100.12 L54.9 101.18 L55.4 101.81 L55.9 101.75 L56.4 100.83 L56.9 101.23 L57.4 101.07 L57.9 101.38 L58.4 102.38 L58.9 101.51 L59.4 101.89 L59.9 102.41 L60.4 101.63 L60.9 101.77 L61.4 101.97 L61.9 101.79 L62.4 101.11 L62.9 101.98 L63.4 102.61 L63.9 101.2 L64.4 102.28 L64.9 102.03 L65.4 101.79 L65.9 103.27 L66.4 102.54 L66.9 101.24 L67.4 101.88 L67.9 102.29 L68.4 101.98 L68.9 102.34 L69.4 102.08 L69.9 102.57 L70.4 102.89 L70.9 101.72 L71.4 101.91 L71.9 101.67 L72.4 101.79 L72.9 101.08 L73.4 101.36 L73.9 101.86 L74.4 102.68 L74.9 102.65 L75.4 101.12 L75.9 101.32 L76.4 101.98 L76.9 100.65 L77.4 101.35 L77.9 102 L78.4 102.88 L78.9 102.55 L79.4 101.79 L79.9 101.63 L80.4 101.96 L80.9 102.88 L81.4 101.85 L81.9 101.75 L82.4 102.14 L82.9 101.91 L83.4 101.66 L83.9 101.2 L84.4 101.74 L84.9 101.84 L85.4 102.78 L85.9 102.58 L86.4 102.15 L86.9 102.37 L87.4 102 L87.9 102.63 L88.4 102.21 L88.9 102.19 L89.4 101.26 L89.9 101.79 L90.4 100.63 L90.9 100.35 L91.4 101.37 L91.9 101.37 L92.4 102.29 L92.9 103.39 L93.4 101.67 L93.9 101.49 L94.4 102.11 L94.9 102.33 L95.4 101.92 L95.9 101.94 L96.4 102.51 L96.9 102.3 L97.4 101.37 L97.9 101.8 L98.4 101.86 L98.9 101.34 L99.4 101.9 L99.9 101.61 L100.4 102.55 L100.9 102.28 L101.4 102 L101.9 101.6 L102.4 101.55 L102.9 100.49 L103.4 101.01 L103.9 101.78 L104.4 100.76 L104.9 102.01 L105.4 101.07 L105.9 102.13 L106.4 101.66 L106.9 102.42 L107.4 101.98 L107.9 101.17 L108.4 102.82 L108.9 103.13 L109.4 102.12 L109.9 101.79 L110.4 101.72 L110.9 101.49 L111.4 102.51 L111.9 101.79 L112.4 101.78 L112.9 101.38 L113.4 101.29 L113.9 101.24 L114.4 102.63 L114.9 102.21 L115.4 102.62 L115.9 102.05 L116.4 101.49 L116.9 101.6 L117.4 101.58 L117.9 101.87 L118.4 101.71 L118.9 101.55 L119.4 100.93 L119.9 101.5 L120.4 102.89 L120.9 101.64 L121.4 101.25 L121.9 102.27 L122.4 102.78 L122.9 101.2 L123.4 101.56 L123.9 101.3 L124.4 100.84 L124.9 102.23 L125.4 102.1 L125.9 101.94 L126.4 101.57 L126.9 102.12 L127.4 101.69 L127.9 101.67 L128.4 101.07 L128.9 101.22 L129.4 102.64 L129.9 101.89 L130.4 102.12 L130.9 101.96 L131.4 101.63 L131.9 101.69 L132.4 102.3 L132.9 101.87 L133.4 101.86 L133.9 102.16 L134.4 102.88 L134.9 102.67 L135.4 102.27 L135.9 101.48 L136.4 101.14 L136.9 102.57 L137.4 102.76 L137.9 102.12 L138.4 102.45 L138.9 102.72 L139.4 102.8 L139.9 102.67 L140.4 102.04 L140.9 102.76 L141.4 101.51 L141.9 102.47 L142.4 102.58 L142.9 102.92 L143.4 103.59 L143.9 103.09 L144.4 101.21 L144.9 100.83 L145.4 102.16 L145.9 101.44 L146.4 101.97 L146.9 102.32 L147.4 100.73 L147.9 100.4 L148.4 101.88 L148.9 102.03 L149.4 101.85 L149.9 101.87 L150.4 101.22 L150.9 100.85 L151.4 101.54 L151.9 101.1 L152.4 100.84 L152.9 102.09 L153.4 102.09 L153.9 102.12 L154.4 101.31 L154.9 101.28 L155.4 101.12 L155.9 101.3 L156.4 101.89 L156.9 101.56 L157.4 102.17 L157.9 102.57 L158.4 103.2 L158.9 101.49 L159.4 102.38 L159.9 102.07 L160.4 101.77 L160.9 100.97 L161.4 101.59 L161.9 102.42 L162.4 102.06 L162.9 102 L163.4 101.98 L163.9 102.72 L164.4 101.84 L164.9 100.44 L165.4 100.95 L165.9 100.13 L166.4 99.48 L166.9 101.37 L167.4 102.82 L167.9 102.05 L168.4 101.09 L168.9 101.37 L169.4 102.62" fill="none" stroke="#1c1a8c" stroke-width="1.25" stroke-linejoin="round"/>
<path d="M41.4 107.25 L41.9 107.22 L42.4 107.18 L42.9 107.24 L43.4 107.44 L43.9 107.36 L44.4 107.13 L44.9 106.79 L45.4 107.03 L45.9 106.81 L46.4 107.02 L46.9 104.34 L47.4 102.56 L47.9 102.12 L48.4 101.92 L48.9 102.73 L49.4 102.74 L49.9 102.26 L50.4 102.51 L50.9 102.31 L51.4 101.61 L51.9 102.27 L52.4 102.39 L52.9 102.36 L53.4 102.08 L53.9 102.21 L54.4 102.22 L54.9 102.35 L55.4 101.89 L55.9 101.57 L56.4 101.6 L56.9 100.78 L57.4 100.26 L57.9 99.72 L58.4 100.25 L58.9 99.98 L59.4 99.63 L59.9 99.25 L60.4 98.81 L60.9 98.52 L61.4 98.14 L61.9 97.9 L62.4 97.83 L62.9 97.99 L63.4 97.55 L63.9 97.07 L64.4 96.67 L64.9 96.56 L65.4 96.96 L65.9 96.57 L66.4 96.16 L66.9 95.79 L67.4 95.44 L67.9 95.59 L68.4 95.7 L68.9 95.24 L69.4 95.06 L69.9 94.96 L70.4 94.82 L70.9 94.3 L71.4 94.43 L71.9 94.33 L72.4 94.58 L72.9 94.18 L73.4 94.43 L73.9 94.58 L74.4 93.99 L74.9 93.75 L75.4 93.87 L75.9 93.74 L76.4 93.46 L76.9 93.87 L77.4 94.22 L77.9 93.6 L78.4 93.37 L78.9 93.17 L79.4 93.37 L79.9 92.96 L80.4 93.01 L80.9 93.54 L81.4 93.13 L81.9 93.56 L82.4 93.68 L82.9 93.31 L83.4 93.35 L83.9 93.6 L84.4 92.98 L84.9 92.63 L85.4 92.42 L85.9 92.82 L86.4 93.25 L86.9 93.02 L87.4 92.39 L87.9 92.27 L88.4 92.39 L88.9 92.58 L89.4 92.47 L89.9 92.54 L90.4 92.52 L90.9 92.33 L91.4 92.35 L91.9 92.39 L92.4 92.33 L92.9 92.53 L93.4 92.86 L93.9 92.49 L94.4 92.1 L94.9 91.64 L95.4 91.94 L95.9 91.37 L96.4 91.46 L96.9 92.08 L97.4 92.05 L97.9 91.62 L98.4 91.11 L98.9 91.3 L99.4 91.29 L99.9 91.66 L100.4 92 L100.9 91.34 L101.4 90.8 L101.9 90.59 L102.4 90.79 L102.9 90.66 L103.4 90.34 L103.9 90.47 L104.4 90.22 L104.9 90.7 L105.4 90.72 L105.9 90.53 L106.4 90.04 L106.9 90.09 L107.4 89.86 L107.9 89.65 L108.4 89.51 L108.9 89.13 L109.4 89.09 L109.9 89.6 L110.4 89.41 L110.9 89.45 L111.4 89.47 L111.9 88.71 L112.4 88.81 L112.9 89.11 L113.4 89.12 L113.9 88.94 L114.4 89.19 L114.9 88.89 L115.4 88.38 L115.9 88.43 L116.4 88.88 L116.9 88.68 L117.4 88.11 L117.9 88.82 L118.4 88.8 L118.9 88.81 L119.4 88.3 L119.9 88.11 L120.4 88.05 L120.9 88.85 L121.4 88.35 L121.9 88.5 L122.4 87.96 L122.9 87.89 L123.4 87.43 L123.9 87.73 L124.4 88.03 L124.9 87.55 L125.4 88 L125.9 87.79 L126.4 87.32 L126.9 87.35 L127.4 87.37 L127.9 87.41 L128.4 87.23 L128.9 87.09 L129.4 87.14 L129.9 86.89 L130.4 86.8 L130.9 87.15 L131.4 87.31 L131.9 86.7 L132.4 86.91 L132.9 86.75 L133.4 86.68 L133.9 87.06 L134.4 86.86 L134.9 87.18 L135.4 86.66 L135.9 86.78 L136.4 86.59 L136.9 86.44 L137.4 86.71 L137.9 86.58 L138.4 86.68 L138.9 86.43 L139.4 86.11 L139.9 86.3 L140.4 86.43 L140.9 86.55 L141.4 86.08 L141.9 86.07 L142.4 85.75 L142.9 86.2 L143.4 85.76 L143.9 85.52 L144.4 86.03 L144.9 86.28 L145.4 85.58 L145.9 85.53 L146.4 85.61 L146.9 85.58 L147.4 85.9 L147.9 85.62 L148.4 85.63 L148.9 85.9 L149.4 85.64 L149.9 85.79 L150.4 85.41 L150.9 85.18 L151.4 85.19 L151.9 86.07 L152.4 85.67 L152.9 85.66 L153.4 85.59 L153.9 85.6 L154.4 85.67 L154.9 85.99 L155.4 85.18 L155.9 84.85 L156.4 84.93 L156.9 84.97 L157.4 85.53 L157.9 85.54 L158.4 84.97 L158.9 84.76 L159.4 85.12 L159.9 85.4 L160.4 84.46 L160.9 85.04 L161.4 84.89 L161.9 85.24 L162.4 84.77 L162.9 84.77 L163.4 84.46 L163.9 84.66 L164.4 85.32 L164.9 85.19 L165.4 84.74 L165.9 84.43 L166.4 84.16 L166.9 84.53 L167.4 84.7 L167.9 84.67 L168.4 84.57 L168.9 84.3 L169.4 84.52" fill="none" stroke="#f51d1d" stroke-width="1.25" stroke-linejoin="round"/>
<path d="M41.4 107.27 L41.9 107.69 L42.4 107.82 L42.9 107.22 L43.4 106.95 L43.9 107.07 L44.4 106.93 L44.9 106.89 L45.4 107 L45.9 106.84 L46.4 107.2 L46.9 107.09 L47.4 107.09 L47.9 106.92 L48.4 106.63 L48.9 106.35 L49.4 106.19 L49.9 105.81 L50.4 105.61 L50.9 105.11 L51.4 104.32 L51.9 104.07 L52.4 103.27 L52.9 102.89 L53.4 102.36 L53.9 101.43 L54.4 101.39 L54.9 101 L55.4 100.44 L55.9 99.89 L56.4 99.33 L56.9 98.46 L57.4 97.63 L57.9 96.54 L58.4 95.6 L58.9 94.52 L59.4 94.14 L59.9 93.53 L60.4 92.8 L60.9 92.17 L61.4 91.75 L61.9 90.77 L62.4 90.74 L62.9 90.33 L63.4 89.87 L63.9 89.39 L64.4 88.7 L64.9 88.4 L65.4 88.29 L65.9 87.9 L66.4 87.36 L66.9 86.63 L67.4 86.83 L67.9 86.81 L68.4 86.45 L68.9 85.8 L69.4 85.11 L69.9 85.4 L70.4 84.86 L70.9 84.05 L71.4 84.44 L71.9 83.89 L72.4 83.7 L72.9 83.85 L73.4 84.18 L73.9 83.7 L74.4 83.72 L74.9 84.02 L75.4 83.8 L75.9 83.12 L76.4 82.74 L76.9 82.3 L77.4 82.31 L77.9 82.5 L78.4 82.38 L78.9 82.18 L79.4 82.15 L79.9 81.58 L80.4 81.58 L80.9 81.71 L81.4 81.61 L81.9 81.58 L82.4 81.25 L82.9 80.93 L83.4 80.89 L83.9 80.39 L84.4 80.16 L84.9 80.63 L85.4 80.52 L85.9 80.37 L86.4 79.79 L86.9 79.96 L87.4 79.87 L87.9 79.6 L88.4 79.21 L88.9 79.68 L89.4 80.05 L89.9 79.84 L90.4 79.48 L90.9 79.56 L91.4 79.53 L91.9 78.63 L92.4 79.15 L92.9 79.45 L93.4 79.51 L93.9 79.71 L94.4 79.47 L94.9 79.1 L95.4 78.98 L95.9 78.95 L96.4 78.52 L96.9 78.54 L97.4 78.81 L97.9 78.94 L98.4 78.28 L98.9 78.09 L99.4 78.13 L99.9 78.28 L100.4 77.93 L100.9 78.01 L101.4 77.32 L101.9 77.28 L102.4 77.26 L102.9 77.45 L103.4 77.31 L103.9 76.49 L104.4 76.46 L104.9 76.69 L105.4 76.3 L105.9 76.03 L106.4 76.58 L106.9 76.46 L107.4 76.25 L107.9 75.95 L108.4 76.15 L108.9 75.84 L109.4 75.93 L109.9 75.32 L110.4 75.18 L110.9 75.34 L111.4 75.13 L111.9 75.36 L112.4 75.15 L112.9 74.74 L113.4 74.84 L113.9 74.77 L114.4 74.92 L114.9 74.47 L115.4 74.44 L115.9 74.91 L116.4 75.21 L116.9 74.99 L117.4 74.33 L117.9 74.25 L118.4 74.45 L118.9 73.91 L119.4 73.54 L119.9 73.74 L120.4 73.74 L120.9 73.25 L121.4 72.86 L121.9 72.92 L122.4 73.38 L122.9 73.06 L123.4 73.09 L123.9 73.18 L124.4 73.19 L124.9 72.91 L125.4 72.93 L125.9 72.53 L126.4 72.48 L126.9 72.39 L127.4 72.83 L127.9 72.51 L128.4 72.18 L128.9 72.19 L129.4 72.24 L129.9 72.31 L130.4 71.66 L130.9 71.65 L131.4 72 L131.9 72.73 L132.4 72.31 L132.9 71.89 L133.4 72.08 L133.9 72.32 L134.4 71.66 L134.9 71.51 L135.4 71.86 L135.9 71.7 L136.4 71.57 L136.9 71.32 L137.4 71.89 L137.9 71.85 L138.4 71.45 L138.9 71.18 L139.4 70.5 L139.9 71 L140.4 70.9 L140.9 70.99 L141.4 70.98 L141.9 70.56 L142.4 70.17 L142.9 70.56 L143.4 70.33 L143.9 70.31 L144.4 70.22 L144.9 70.1 L145.4 69.71 L145.9 70.5 L146.4 70.44 L146.9 70.64 L147.4 70.77 L147.9 70.08 L148.4 69.43 L148.9 69.51 L149.4 69.47 L149.9 69.64 L150.4 69.67 L150.9 69.19 L151.4 69.58 L151.9 69.25 L152.4 69.59 L152.9 69.52 L153.4 69.4 L153.9 69.38 L154.4 69.2 L154.9 69.04 L155.4 68.77 L155.9 69.26 L156.4 69.88 L156.9 69.94 L157.4 69.67 L157.9 69.31 L158.4 68.95 L158.9 69.35 L159.4 68.99 L159.9 68.83 L160.4 68.74 L160.9 68.76 L161.4 68.61 L161.9 68.57 L162.4 68.29 L162.9 68.56 L163.4 69.19 L163.9 68.61 L164.4 68.42 L164.9 68.6 L165.4 68.54 L165.9 68.03 L166.4 68.21 L166.9 68.51 L167.4 68.34 L167.9 68.3 L168.4 68.53 L168.9 67.96 L169.4 68" fill="none" stroke="#36a336" stroke-width="1.25" stroke-linejoin="round"/>
<path d="M41.4 105.32 L41.9 105.79 L42.4 104.63 L42.9 104.86 L43.4 105.12 L43.9 105.62 L44.4 105.76 L44.9 105.8 L45.4 104.82 L45.9 105.42 L46.4 105.15 L46.9 104.99 L47.4 105.32 L47.9 104.68 L48.4 104.16 L48.9 104.54 L49.4 104.14 L49.9 104.28 L50.4 104.28 L50.9 103.92 L51.4 103.62 L51.9 102.39 L52.4 101.11 L52.9 100.2 L53.4 98.9 L53.9 97.68 L54.4 96.97 L54.9 95.57 L55.4 94.08 L55.9 93.47 L56.4 92.25 L56.9 91.34 L57.4 90.52 L57.9 89.9 L58.4 89.12 L58.9 88.64 L59.4 87.67 L59.9 86.79 L60.4 85.84 L60.9 84.54 L61.4 84 L61.9 83.32 L62.4 82.65 L62.9 81.77 L63.4 81.86 L63.9 80.96 L64.4 79.9 L64.9 79.26 L65.4 79.17 L65.9 78.82 L66.4 78.27 L66.9 78.02 L67.4 77.55 L67.9 77.41 L68.4 76.81 L68.9 76.66 L69.4 76.78 L69.9 76.77 L70.4 75.54 L70.9 75.13 L71.4 74.84 L71.9 74.86 L72.4 74.13 L72.9 73.93 L73.4 73.76 L73.9 73.22 L74.4 72.93 L74.9 72.7 L75.4 72.05 L75.9 71.97 L76.4 72.13 L76.9 72.13 L77.4 71.76 L77.9 71.16 L78.4 71.33 L78.9 71.58 L79.4 71.37 L79.9 70.94 L80.4 70.58 L80.9 70.73 L81.4 70.27 L81.9 69.87 L82.4 69.91 L82.9 70.35 L83.4 70.02 L83.9 69.95 L84.4 69.45 L84.9 69.51 L85.4 69.02 L85.9 69.06 L86.4 69.62 L86.9 69.06 L87.4 68.47 L87.9 68.41 L88.4 68.5 L88.9 68.57 L89.4 67.94 L89.9 67.46 L90.4 67.74 L90.9 67.84 L91.4 67.88 L91.9 68.09 L92.4 67.82 L92.9 67.69 L93.4 67.2 L93.9 67.64 L94.4 67.94 L94.9 67.5 L95.4 67.14 L95.9 67.07 L96.4 67.25 L96.9 66.49 L97.4 66.46 L97.9 66.57 L98.4 66.48 L98.9 66.06 L99.4 66.03 L99.9 65.79 L100.4 65.71 L100.9 65.45 L101.4 65.06 L101.9 65.24 L102.4 65.31 L102.9 64.72 L103.4 64.73 L103.9 64.79 L104.4 64.27 L104.9 64.3 L105.4 64.01 L105.9 64.51 L106.4 64.84 L106.9 64.56 L107.4 63.81 L107.9 63.78 L108.4 63.54 L108.9 63.47 L109.4 63.59 L109.9 62.88 L110.4 63.23 L110.9 63.04 L111.4 63.23 L111.9 62.81 L112.4 62.45 L112.9 62.61 L113.4 62.67 L113.9 62.43 L114.4 62.37 L114.9 61.91 L115.4 61.48 L115.9 62.17 L116.4 62.19 L116.9 61.92 L117.4 61.85 L117.9 61.95 L118.4 61.48 L118.9 61.27 L119.4 61.41 L119.9 61.61 L120.4 61.03 L120.9 61.44 L121.4 60.96 L121.9 60.78 L122.4 61.29 L122.9 60.89 L123.4 60.44 L123.9 60.65 L124.4 61.03 L124.9 61.01 L125.4 60.53 L125.9 60.62 L126.4 60.61 L126.9 60.22 L127.4 60.33 L127.9 60.18 L128.4 59.94 L128.9 59.89 L129.4 59.98 L129.9 59.9 L130.4 59.66 L130.9 59.69 L131.4 60.03 L131.9 59.84 L132.4 59.93 L132.9 59.96 L133.4 59.84 L133.9 60.04 L134.4 59.27 L134.9 59.42 L135.4 59.27 L135.9 59.76 L136.4 59.56 L136.9 58.48 L137.4 58.58 L137.9 59.07 L138.4 59.14 L138.9 59.03 L139.4 58.76 L139.9 58.82 L140.4 58.81 L140.9 58.62 L141.4 58.63 L141.9 57.86 L142.4 58.35 L142.9 58.11 L143.4 58.46 L143.9 58.14 L144.4 57.89 L144.9 58.09 L145.4 57.74 L145.9 57.56 L146.4 57.41 L146.9 57.8 L147.4 58.04 L147.9 58.1 L148.4 57.81 L148.9 57.97 L149.4 57.69 L149.9 57.59 L150.4 57.76 L150.9 57.8 L151.4 57.38 L151.9 57.28 L152.4 57.28 L152.9 57.25 L153.4 57.06 L153.9 57.43 L154.4 57.14 L154.9 57.18 L155.4 56.89 L155.9 57.12 L156.4 57.12 L156.9 57 L157.4 57.52 L157.9 57.25 L158.4 57.47 L158.9 57.18 L159.4 56.63 L159.9 56.63 L160.4 56.83 L160.9 56.74 L161.4 56.66 L161.9 56.43 L162.4 56.03 L162.9 56.24 L163.4 55.89 L163.9 56.42 L164.4 56.23 L164.9 56.17 L165.4 56.32 L165.9 56.36 L166.4 55.84 L166.9 55.66 L167.4 55.75 L167.9 55.55 L168.4 55.94 L168.9 56.57 L169.4 56" fill="none" stroke="#7020a0" stroke-width="1.25" stroke-linejoin="round"/>
<path d="M41.4 107.75 L41.9 107.15 L42.4 107.65 L42.9 107.6 L43.4 107.75 L43.9 108.18 L44.4 108.63 L44.9 108.1 L45.4 107.85 L45.9 107.56 L46.4 108.09 L46.9 108.19 L47.4 109.59 L47.9 110.96 L48.4 111.84 L48.9 111.09 L49.4 111.5 L49.9 111.91 L50.4 111.56 L50.9 110.33 L51.4 107.85 L51.9 103.84 L52.4 100.41 L52.9 97.79 L53.4 94.45 L53.9 90.99 L54.4 89.01 L54.9 87.65 L55.4 86.24 L55.9 84 L56.4 82.36 L56.9 81.45 L57.4 80.25 L57.9 78.75 L58.4 77.45 L58.9 76.47 L59.4 75.81 L59.9 74.86 L60.4 74.87 L60.9 74.08 L61.4 73.8 L61.9 73.68 L62.4 72.89 L62.9 71.8 L63.4 71.81 L63.9 71.48 L64.4 70.53 L64.9 70.03 L65.4 69.8 L65.9 69.25 L66.4 69.45 L66.9 68.22 L67.4 68.05 L67.9 68.01 L68.4 67.75 L68.9 67.53 L69.4 67.21 L69.9 66.84 L70.4 66.69 L70.9 65.64 L71.4 65.71 L71.9 65.38 L72.4 65.29 L72.9 65.01 L73.4 64.42 L73.9 64.25 L74.4 64.41 L74.9 64.07 L75.4 63.7 L75.9 64.27 L76.4 64.11 L76.9 62.97 L77.4 63.24 L77.9 63.75 L78.4 63.21 L78.9 62.78 L79.4 62.47 L79.9 62.25 L80.4 62.19 L80.9 62.09 L81.4 62.27 L81.9 61.9 L82.4 61.66 L82.9 61.41 L83.4 61.55 L83.9 61.32 L84.4 61.46 L84.9 61.73 L85.4 61.53 L85.9 61.43 L86.4 61.3 L86.9 61.11 L87.4 60.95 L87.9 60.88 L88.4 60.99 L88.9 60.61 L89.4 61.06 L89.9 60.72 L90.4 60.37 L90.9 60.34 L91.4 60.3 L91.9 60.43 L92.4 60.29 L92.9 60.6 L93.4 60 L93.9 59.48 L94.4 59.7 L94.9 59.48 L95.4 59.97 L95.9 60.31 L96.4 60.05 L96.9 59.38 L97.4 59.49 L97.9 60.08 L98.4 59.69 L98.9 59.47 L99.4 59.73 L99.9 60.02 L100.4 59.58 L100.9 59.07 L101.4 58.96 L101.9 58.85 L102.4 58.36 L102.9 58.1 L103.4 58.21 L103.9 57.92 L104.4 58.01 L104.9 58.14 L105.4 58.49 L105.9 57.62 L106.4 57.52 L106.9 57.48 L107.4 57.59 L107.9 57.61 L108.4 57.08 L108.9 56.74 L109.4 56.43 L109.9 56.6 L110.4 56.97 L110.9 56.78 L111.4 56.4 L111.9 56.48 L112.4 56.6 L112.9 56.63 L113.4 56.29 L113.9 56.16 L114.4 55.7 L114.9 55.91 L115.4 56.47 L115.9 55.58 L116.4 55.87 L116.9 56.05 L117.4 55.83 L117.9 55.66 L118.4 55.8 L118.9 55.8 L119.4 55.62 L119.9 55.14 L120.4 55.44 L120.9 55.31 L121.4 55.35 L121.9 55.57 L122.4 55.71 L122.9 55.67 L123.4 55.32 L123.9 55.61 L124.4 55.72 L124.9 55.69 L125.4 55.61 L125.9 55.12 L126.4 55.03 L126.9 55.13 L127.4 54.59 L127.9 54.82 L128.4 54.66 L128.9 54.52 L129.4 54.13 L129.9 54.29 L130.4 54.61 L130.9 54.89 L131.4 54.85 L131.9 54.49 L132.4 54.3 L132.9 54.13 L133.4 54.36 L133.9 54.25 L134.4 54.48 L134.9 54.71 L135.4 54.12 L135.9 53.57 L136.4 53.58 L136.9 53.41 L137.4 53.56 L137.9 54.2 L138.4 53.89 L138.9 53.4 L139.4 53.92 L139.9 54.09 L140.4 53.59 L140.9 53.38 L141.4 53.46 L141.9 53.65 L142.4 53.79 L142.9 53.94 L143.4 53.94 L143.9 53.91 L144.4 53.88 L144.9 53.51 L145.4 52.88 L145.9 53.15 L146.4 53.29 L146.9 53.16 L147.4 53.38 L147.9 53.02 L148.4 52.9 L148.9 53.48 L149.4 53.34 L149.9 53.17 L150.4 53.33 L150.9 53.34 L151.4 52.93 L151.9 52.14 L152.4 52.47 L152.9 52.58 L153.4 52.49 L153.9 52.83 L154.4 53.06 L154.9 52.56 L155.4 52.43 L155.9 53.13 L156.4 52.52 L156.9 52.2 L157.4 52.56 L157.9 52.61 L158.4 52.35 L158.9 52.61 L159.4 52.27 L159.9 52.1 L160.4 52.4 L160.9 52.52 L161.4 52.18 L161.9 52.32 L162.4 52.4 L162.9 52.98 L163.4 52.23 L163.9 52.5 L164.4 52.18 L164.9 52.09 L165.4 52.31 L165.9 52.41 L166.4 52.44 L166.9 52.1 L167.4 51.74 L167.9 51.74 L168.4 52.02 L168.9 52.13 L169.4 52.26" fill="none" stroke="#ff6b12" stroke-width="1.25" stroke-linejoin="round"/>
<path d="M41.4 266.99 L41.9 267.23 L42.4 267.31 L42.9 266.82 L43.4 266.25 L43.9 266.18 L44.4 266.28 L44.9 266.95 L45.4 266.5 L45.9 266.86 L46.4 266.76 L46.9 266.74 L47.4 266 L47.9 263.73 L48.4 264.33 L48.9 265.54 L49.4 266.05 L49.9 266.27 L50.4 266.65 L50.9 266.75 L51.4 265.31 L51.9 264.81 L52.4 263.81 L52.9 263.07 L53.4 262.15 L53.9 260.88 L54.4 259.92 L54.9 258.65 L55.4 258.55 L55.9 257.72 L56.4 257.43 L56.9 256.74 L57.4 255.6 L57.9 255.66 L58.4 255.81 L58.9 255.88 L59.4 255.3 L59.9 254.83 L60.4 254.27 L60.9 254.78 L61.4 254.74 L61.9 254.02 L62.4 253.55 L62.9 253.09 L63.4 253.68 L63.9 254.08 L64.4 253.48 L64.9 253.32 L65.4 252.9 L65.9 252.41 L66.4 252.71 L66.9 252.05 L67.4 252.12 L67.9 252.27 L68.4 252.36 L68.9 252.19 L69.4 252 L69.9 251.57 L70.4 251.36 L70.9 251.61 L71.4 251.37 L71.9 251.08 L72.4 251.03 L72.9 251.1 L73.4 250.7 L73.9 250.66 L74.4 250.64 L74.9 251.08 L75.4 251.28 L75.9 251.46 L76.4 250.5 L76.9 250.54 L77.4 250.91 L77.9 250.6 L78.4 250.55 L78.9 250.94 L79.4 250.34 L79.9 249.89 L80.4 249.82 L80.9 250.22 L81.4 250.15 L81.9 249.61 L82.4 249.64 L82.9 250.05 L83.4 250.02 L83.9 249.69 L84.4 249.92 L84.9 249.78 L85.4 249.11 L85.9 249.38 L86.4 249.57 L86.9 249.16 L87.4 248.69 L87.9 249.14 L88.4 249.54 L88.9 249.54 L89.4 248.71 L89.9 249.58 L90.4 248.84 L90.9 249.16 L91.4 249.28 L91.9 249.09 L92.4 248.68 L92.9 248.28 L93.4 248.57 L93.9 248.11 L94.4 247.76 L94.9 249.03 L95.4 248.75 L95.9 248.72 L96.4 248.08 L96.9 248.56 L97.4 248.69 L97.9 248.53 L98.4 247.94 L98.9 247.51 L99.4 247.55 L99.9 247 L100.4 247.09 L100.9 247.53 L101.4 247.33 L101.9 247.46 L102.4 247.61 L102.9 248.12 L103.4 247.93 L103.9 247.53 L104.4 247.64 L104.9 247.12 L105.4 247.16 L105.9 247.37 L106.4 246.83 L106.9 246.87 L107.4 246.67 L107.9 247.08 L108.4 247.42 L108.9 246.83 L109.4 246.85 L109.9 246.52 L110.4 246.33 L110.9 246.41 L111.4 247.21 L111.9 247.48 L112.4 246.87 L112.9 246.44 L113.4 246.68 L113.9 246.49 L114.4 246.68 L114.9 246.56 L115.4 246.5 L115.9 246.48 L116.4 246.12 L116.9 245.97 L117.4 245.64 L117.9 245.83 L118.4 245.66 L118.9 245.88 L119.4 245.75 L119.9 245.99 L120.4 246 L120.9 245.47 L121.4 245.48 L121.9 245.54 L122.4 246.05 L122.9 246.34 L123.4 246.04 L123.9 245.7 L124.4 245.93 L124.9 245.32 L125.4 245.84 L125.9 245.22 L126.4 244.76 L126.9 246.11 L127.4 245.93 L127.9 245.12 L128.4 245.24 L128.9 245.18 L129.4 245.1 L129.9 244.66 L130.4 244.82 L130.9 245.15 L131.4 245.17 L131.9 245.32 L132.4 245.15 L132.9 245.51 L133.4 244.76 L133.9 244.68 L134.4 244.09 L134.9 244.27 L135.4 244.89 L135.9 244.43 L136.4 244.64 L136.9 244.46 L137.4 244.13 L137.9 244.23 L138.4 244.19 L138.9 244.22 L139.4 244.55 L139.9 244.49 L140.4 244.06 L140.9 243.93 L141.4 244.21 L141.9 244.21 L142.4 244.6 L142.9 245 L143.4 244.49 L143.9 244.09 L144.4 243.92 L144.9 243.69 L145.4 243.6 L145.9 243.59 L146.4 243.73 L146.9 243.82 L147.4 244.07 L147.9 243.79 L148.4 243.7 L148.9 243.57 L149.4 244.26 L149.9 244.16 L150.4 244.38 L150.9 244.2 L151.4 244.21 L151.9 243.78 L152.4 244.06 L152.9 244.44 L153.4 243.54 L153.9 244 L154.4 244.2 L154.9 243.86 L155.4 243.89 L155.9 243.91 L156.4 243.42 L156.9 243.5 L157.4 243.17 L157.9 243.12 L158.4 243.16 L158.9 243.29 L159.4 243.4 L159.9 243.36 L160.4 243.01 L160.9 243.82 L161.4 243.74 L161.9 243.45 L162.4 243.08 L162.9 243.1 L163.4 243.27 L163.9 243.1 L164.4 242.59 L164.9 243.29 L165.4 243.76 L165.9 242.61 L166.4 243.09 L166.9 243.02 L167.4 242.89 L167.9 243.11 L168.4 242.49 L168.9 242.68" fill="none" stroke="#36a336" stroke-width="1.25" stroke-linejoin="round"/>
<path d="M41.4 267.61 L41.9 266.79 L42.4 266.44 L42.9 266.49 L43.4 266.41 L43.9 266.96 L44.4 266.24 L44.9 266.58 L45.4 266.16 L45.9 267.22 L46.4 267.46 L46.9 267.1 L47.4 268.24 L47.9 268.41 L48.4 269.04 L48.9 269.9 L49.4 269.05 L49.9 269.1 L50.4 269.94 L50.9 268.81 L51.4 267.09 L51.9 263.51 L52.4 260.29 L52.9 258.44 L53.4 257.04 L53.9 255.46 L54.4 253.9 L54.9 252.71 L55.4 251.63 L55.9 250.71 L56.4 250.43 L56.9 249.08 L57.4 247.81 L57.9 247.19 L58.4 246.81 L58.9 246.1 L59.4 245.19 L59.9 244.49 L60.4 244.09 L60.9 243.22 L61.4 242.96 L61.9 243.18 L62.4 242.64 L62.9 242.55 L63.4 242.52 L63.9 242.06 L64.4 241.68 L64.9 241.9 L65.4 241.27 L65.9 240.69 L66.4 240.68 L66.9 240.34 L67.4 239.76 L67.9 239.72 L68.4 239.37 L68.9 238.71 L69.4 238.91 L69.9 238.78 L70.4 238.44 L70.9 237.95 L71.4 238.09 L71.9 238.09 L72.4 237.89 L72.9 237.46 L73.4 237.61 L73.9 237.05 L74.4 237.16 L74.9 237.38 L75.4 236.72 L75.9 236.59 L76.4 236.84 L76.9 236.37 L77.4 236.2 L77.9 236.29 L78.4 236.25 L78.9 235.3 L79.4 235.39 L79.9 235.32 L80.4 235.2 L80.9 235.17 L81.4 235.17 L81.9 235.35 L82.4 235.04 L82.9 235.2 L83.4 235.19 L83.9 234.83 L84.4 235.03 L84.9 235.37 L85.4 234.93 L85.9 234.51 L86.4 234.49 L86.9 234.28 L87.4 234.55 L87.9 234.63 L88.4 234.14 L88.9 234.24 L89.4 234.51 L89.9 234.1 L90.4 234.07 L90.9 233.71 L91.4 233.66 L91.9 233.88 L92.4 234.48 L92.9 233.82 L93.4 233.57 L93.9 233.52 L94.4 233.63 L94.9 233.81 L95.4 233.78 L95.9 234.12 L96.4 233.71 L96.9 233.82 L97.4 233.5 L97.9 233.33 L98.4 232.76 L98.9 232.96 L99.4 232.97 L99.9 232.74 L100.4 232.29 L100.9 232.91 L101.4 232.65 L101.9 232.5 L102.4 232.48 L102.9 232.47 L103.4 232.48 L103.9 231.98 L104.4 231.98 L104.9 232.29 L105.4 232.22 L105.9 231.98 L106.4 231.81 L106.9 231.71 L107.4 231.94 L107.9 232.15 L108.4 231.67 L108.9 232.19 L109.4 232.02 L109.9 231.62 L110.4 231.71 L110.9 231.06 L111.4 230.82 L111.9 230.95 L112.4 231.19 L112.9 231.22 L113.4 231.16 L113.9 231.15 L114.4 230.66 L114.9 231.13 L115.4 230.74 L115.9 230.82 L116.4 230.85 L116.9 230.6 L117.4 230.47 L117.9 230.59 L118.4 230.91 L118.9 231.11 L119.4 231.01 L119.9 230.53 L120.4 230.44 L120.9 230.47 L121.4 230.67 L121.9 230.2 L122.4 230.86 L122.9 230.5 L123.4 230.34 L123.9 230.66 L124.4 230.85 L124.9 230.7 L125.4 230.77 L125.9 230.58 L126.4 230.8 L126.9 230.75 L127.4 230.41 L127.9 230.66 L128.4 230.34 L128.9 230.13 L129.4 229.83 L129.9 229.98 L130.4 230.17 L130.9 229.7 L131.4 230.09 L131.9 230.08 L132.4 229.85 L132.9 229.2 L133.4 229.67 L133.9 229.9 L134.4 229.55 L134.9 229.51 L135.4 228.99 L135.9 229.61 L136.4 229.47 L136.9 229.63 L137.4 229.05 L137.9 229.52 L138.4 229.44 L138.9 229.54 L139.4 229.08 L139.9 229.2 L140.4 229.83 L140.9 229.08 L141.4 228.91 L141.9 228.96 L142.4 228.87 L142.9 229.46 L143.4 229.57 L143.9 228.79 L144.4 228.48 L144.9 229.22 L145.4 229.33 L145.9 229.22 L146.4 229.13 L146.9 228.56 L147.4 228.53 L147.9 228.17 L148.4 228.2 L148.9 228.76 L149.4 228.57 L149.9 229.16 L150.4 228.61 L150.9 228.32 L151.4 228.72 L151.9 228.99 L152.4 228.53 L152.9 228.01 L153.4 228.4 L153.9 228.65 L154.4 228.11 L154.9 227.99 L155.4 228.42 L155.9 228.17 L156.4 227.77 L156.9 227.85 L157.4 227.83 L157.9 228.08 L158.4 228.13 L158.9 228.37 L159.4 228.14 L159.9 227.55 L160.4 227.99 L160.9 228.21 L161.4 228.12 L161.9 228.14 L162.4 227.67 L162.9 227.55 L163.4 227.93 L163.9 227.37 L164.4 227.11 L164.9 227.85 L165.4 227.54 L165.9 227.47 L166.4 227.16 L166.9 227.11 L167.4 227.2 L167.9 227.47 L168.4 227.56 L168.9 226.95" fill="none" stroke="#f51d1d" stroke-width="1.25" stroke-linejoin="round"/>
<path d="M41.4 267.24 L41.9 266.31 L42.4 266.29 L42.9 267.04 L43.4 266.68 L43.9 266.23 L44.4 267.47 L44.9 266.67 L45.4 267.01 L45.9 267.33 L46.4 267.8 L46.9 267.22 L47.4 267.59 L47.9 267.1 L48.4 267.65 L48.9 266.98 L49.4 267.23 L49.9 268.21 L50.4 267.58 L50.9 266.96 L51.4 265.04 L51.9 260.2 L52.4 256.04 L52.9 252.75 L53.4 249.76 L53.9 248.07 L54.4 246.14 L54.9 243.86 L55.4 242.19 L55.9 240.96 L56.4 239.56 L56.9 238.14 L57.4 237.27 L57.9 235.72 L58.4 235.15 L58.9 234.46 L59.4 233.79 L59.9 233.17 L60.4 232.19 L60.9 231.92 L61.4 231.13 L61.9 230.27 L62.4 229.45 L62.9 228.99 L63.4 228.86 L63.9 228.16 L64.4 228.01 L64.9 227.95 L65.4 227.65 L65.9 227.32 L66.4 226.41 L66.9 225.87 L67.4 226.07 L67.9 225.75 L68.4 225.58 L68.9 225.1 L69.4 225.09 L69.9 224.79 L70.4 224.47 L70.9 224.15 L71.4 223.86 L71.9 223.58 L72.4 223.39 L72.9 223.3 L73.4 222.84 L73.9 223.09 L74.4 222.57 L74.9 222.51 L75.4 222.07 L75.9 221.91 L76.4 222.24 L76.9 221.45 L77.4 220.86 L77.9 220.79 L78.4 220.89 L78.9 221.31 L79.4 220.73 L79.9 220.49 L80.4 219.85 L80.9 219.95 L81.4 220.02 L81.9 220.05 L82.4 219.32 L82.9 219.39 L83.4 219.18 L83.9 218.72 L84.4 218.81 L84.9 218.57 L85.4 218.03 L85.9 218.65 L86.4 218.65 L86.9 218.19 L87.4 217.92 L87.9 218.49 L88.4 218.22 L88.9 218.25 L89.4 218.15 L89.9 217.55 L90.4 217.6 L90.9 217.24 L91.4 217.08 L91.9 216.94 L92.4 216.9 L92.9 217.03 L93.4 216.66 L93.9 216.39 L94.4 216.26 L94.9 216.25 L95.4 215.85 L95.9 215.82 L96.4 215.85 L96.9 215.67 L97.4 215.65 L97.9 215.61 L98.4 216.22 L98.9 216.05 L99.4 215.64 L99.9 215.5 L100.4 215.93 L100.9 215.42 L101.4 215.13 L101.9 215.15 L102.4 215.18 L102.9 215.34 L103.4 215.05 L103.9 215.33 L104.4 214.62 L104.9 214.72 L105.4 214.43 L105.9 214.95 L106.4 214.45 L106.9 214.39 L107.4 214.65 L107.9 214.6 L108.4 213.9 L108.9 213.85 L109.4 213.61 L109.9 213.92 L110.4 213.86 L110.9 213.68 L111.4 213.51 L111.9 213.49 L112.4 213.42 L112.9 213.76 L113.4 213.85 L113.9 212.95 L114.4 213.18 L114.9 213.2 L115.4 213.29 L115.9 212.91 L116.4 212.93 L116.9 212.77 L117.4 213.12 L117.9 212.97 L118.4 212.83 L118.9 212.86 L119.4 212.57 L119.9 212.22 L120.4 212.69 L120.9 212.64 L121.4 212.5 L121.9 212.76 L122.4 212.69 L122.9 211.98 L123.4 212.01 L123.9 212.64 L124.4 212.55 L124.9 211.81 L125.4 211.52 L125.9 211.59 L126.4 211.53 L126.9 211.26 L127.4 211.52 L127.9 211.17 L128.4 211.17 L128.9 211.63 L129.4 211.26 L129.9 211.31 L130.4 211.5 L130.9 211.45 L131.4 211.08 L131.9 210.99 L132.4 210.85 L132.9 211.41 L133.4 211.07 L133.9 210.49 L134.4 210.68 L134.9 210.88 L135.4 210.87 L135.9 211.16 L136.4 210.92 L136.9 210.3 L137.4 210.17 L137.9 209.89 L138.4 210.2 L138.9 210.37 L139.4 210.89 L139.9 210.1 L140.4 209.33 L140.9 209.61 L141.4 209.79 L141.9 209.42 L142.4 209.43 L142.9 209.61 L143.4 209.77 L143.9 209.58 L144.4 209.4 L144.9 209.73 L145.4 209.4 L145.9 209.24 L146.4 208.98 L146.9 209.15 L147.4 209.44 L147.9 208.92 L148.4 209.25 L148.9 209.47 L149.4 209.2 L149.9 209.2 L150.4 208.96 L150.9 209.54 L151.4 209.54 L151.9 209.12 L152.4 208.49 L152.9 208.67 L153.4 209.32 L153.9 209.55 L154.4 209.21 L154.9 209.25 L155.4 208.76 L155.9 208.74 L156.4 208.82 L156.9 208.8 L157.4 208.38 L157.9 208.98 L158.4 209.06 L158.9 208.31 L159.4 208.17 L159.9 208.57 L160.4 208.24 L160.9 207.85 L161.4 208.6 L161.9 208.54 L162.4 208.45 L162.9 209.02 L163.4 208.52 L163.9 208.16 L164.4 208.25 L164.9 207.96 L165.4 208.02 L165.9 208.29 L166.4 208.06 L166.9 208.14 L167.4 208.7 L167.9 208.56 L168.4 208.45 L168.9 208.31" fill="none" stroke="#1c1a8c" stroke-width="1.25" stroke-linejoin="round"/>
<path d="M41.4 271.06 L41.9 271.8 L42.4 271.34 L42.9 272.09 L43.4 270.56 L43.9 270.47 L44.4 269.87 L44.9 270.33 L45.4 270.98 L45.9 271.3 L46.4 270.08 L46.9 270.25 L47.4 270.16 L47.9 269.91 L48.4 269.84 L48.9 270.5 L49.4 269.85 L49.9 271 L50.4 271.2 L50.9 270.69 L51.4 270.28 L51.9 270.28 L52.4 271.51 L52.9 271.05 L53.4 271.6 L53.9 271.4 L54.4 270.96 L54.9 270.76 L55.4 271.35 L55.9 271.47 L56.4 270.71 L56.9 270.76 L57.4 271.1 L57.9 271.02 L58.4 271.25 L58.9 270.62 L59.4 270.61 L59.9 270.3 L60.4 270.92 L60.9 270.14 L61.4 269.59 L61.9 270.03 L62.4 270.21 L62.9 270.59 L63.4 269.99 L63.9 269.9 L64.4 270.08 L64.9 270.22 L65.4 269.78 L65.9 269.88 L66.4 269.65 L66.9 269.32 L67.4 269.29 L67.9 269.15 L68.4 268.92 L68.9 269.24 L69.4 268.68 L69.9 269.18 L70.4 269.13 L70.9 268.69 L71.4 268.38 L71.9 268.47 L72.4 268.66 L72.9 268.68 L73.4 268.53 L73.9 268.54 L74.4 268.1 L74.9 268.05 L75.4 267.64 L75.9 268.1 L76.4 267.96 L76.9 267.78 L77.4 268.11 L77.9 267.77 L78.4 266.82 L78.9 267.28 L79.4 267.11 L79.9 267.78 L80.4 268.1 L80.9 267.27 L81.4 267.18 L81.9 267.09 L82.4 267.21 L82.9 267.32 L83.4 267.33 L83.9 266.81 L84.4 267.21 L84.9 266.66 L85.4 266.87 L85.9 267.13 L86.4 266.91 L86.9 266.37 L87.4 266.31 L87.9 266.38 L88.4 266.55 L88.9 266.74 L89.4 266.17 L89.9 266.51 L90.4 266.62 L90.9 266.57 L91.4 266.58 L91.9 266.78 L92.4 266.54 L92.9 266.53 L93.4 266.52 L93.9 266.6 L94.4 265.77 L94.9 266.35 L95.4 266.07 L95.9 265.9 L96.4 265.61 L96.9 265.38 L97.4 265.71 L97.9 265.77 L98.4 265.96 L98.9 265.62 L99.4 266.25 L99.9 266.04 L100.4 265.77 L100.9 265.58 L101.4 265.49 L101.9 265.4 L102.4 265.57 L102.9 265.74 L103.4 265.63 L103.9 265.31 L104.4 265.51 L104.9 265.45 L105.4 265.81 L105.9 266.28 L106.4 265.94 L106.9 265.49 L107.4 265.04 L107.9 264.98 L108.4 265.05 L108.9 265.63 L109.4 265.37 L109.9 265.45 L110.4 265.33 L110.9 265.55 L111.4 265.83 L111.9 265.29 L112.4 265.2 L112.9 265.16 L113.4 265.48 L113.9 264.99 L114.4 264.79 L114.9 264.67 L115.4 264.74 L115.9 265.39 L116.4 265.87 L116.9 265.04 L117.4 265.31 L117.9 265.11 L118.4 264.68 L118.9 264.81 L119.4 264.81 L119.9 264.81 L120.4 265.28 L120.9 264.43 L121.4 264.83 L121.9 264.87 L122.4 264.62 L122.9 264.79 L123.4 264.98 L123.9 264.81 L124.4 264.83 L124.9 264.74 L125.4 264.15 L125.9 265.05 L126.4 265.4 L126.9 265.06 L127.4 264.82 L127.9 264.17 L128.4 264.34 L128.9 264.22 L129.4 264.33 L129.9 264.67 L130.4 264.28 L130.9 264.24 L131.4 263.86 L131.9 264.27 L132.4 264.39 L132.9 264.16 L133.4 264.26 L133.9 264.82 L134.4 264.07 L134.9 263.93 L135.4 264.12 L135.9 264.78 L136.4 265.05 L136.9 264.5 L137.4 264.09 L137.9 264.19 L138.4 264.51 L138.9 264.16 L139.4 264.71 L139.9 264.75 L140.4 264.38 L140.9 264.45 L141.4 264.55 L141.9 264.61 L142.4 264.02 L142.9 264.4 L143.4 264.04 L143.9 263.86 L144.4 264.05 L144.9 263.94 L145.4 263.64 L145.9 263.43 L146.4 263.71 L146.9 264.47 L147.4 264.67 L147.9 264.32 L148.4 264.27 L148.9 263.8 L149.4 263.83 L149.9 263.85 L150.4 263.45 L150.9 263.44 L151.4 263.71 L151.9 263.59 L152.4 263.41 L152.9 263.72 L153.4 263.68 L153.9 263.92 L154.4 263.66 L154.9 263.5 L155.4 263.57 L155.9 263.45 L156.4 263.27 L156.9 263.37 L157.4 263.69 L157.9 263.74 L158.4 263.71 L158.9 262.92 L159.4 263.09 L159.9 263.17 L160.4 263.27 L160.9 263.09 L161.4 263.08 L161.9 263.39 L162.4 263.18 L162.9 262.87 L163.4 263.47 L163.9 263.39 L164.4 262.97 L164.9 263.15 L165.4 262.86 L165.9 263.19 L166.4 262.84 L166.9 262.58 L167.4 262.61 L167.9 262.54 L168.4 262.76 L168.9 262.77" fill="none" stroke="#7020a0" stroke-width="1.25" stroke-linejoin="round"/>
<path d="M41.4 420.47 L41.9 419.95 L42.4 419.04 L42.9 419.94 L43.4 419.67 L43.9 420.33 L44.4 420.77 L44.9 420.58 L45.4 420.41 L45.9 420.5 L46.4 420.26 L46.9 419.28 L47.4 416.26 L47.9 416.93 L48.4 419.39 L48.9 420.53 L49.4 420.98 L49.9 420.89 L50.4 420.75 L50.9 420.35 L51.4 419.06 L51.9 417.15 L52.4 415.13 L52.9 412.94 L53.4 410.97 L53.9 409.5 L54.4 407.45 L54.9 405.72 L55.4 404.43 L55.9 402.86 L56.4 401.29 L56.9 399.98 L57.4 399.35 L57.9 398.1 L58.4 397.12 L58.9 396.1 L59.4 395.03 L59.9 394.34 L60.4 394.01 L60.9 393.42 L61.4 392.64 L61.9 391.86 L62.4 391.31 L62.9 391.02 L63.4 390.5 L63.9 390.51 L64.4 390.32 L64.9 390.17 L65.4 389.35 L65.9 388.53 L66.4 387.89 L66.9 387.08 L67.4 387.2 L67.9 387.1 L68.4 386.99 L68.9 386.62 L69.4 386.25 L69.9 385.87 L70.4 385.66 L70.9 385.43 L71.4 384.66 L71.9 384.34 L72.4 384.02 L72.9 384.31 L73.4 384.08 L73.9 383.59 L74.4 382.96 L74.9 382.88 L75.4 382.62 L75.9 382.41 L76.4 382.16 L76.9 382.02 L77.4 381.69 L77.9 381.65 L78.4 381.33 L78.9 380.97 L79.4 380.74 L79.9 380.51 L80.4 380.48 L80.9 380.12 L81.4 379.95 L81.9 379.59 L82.4 379.26 L82.9 379.46 L83.4 379.1 L83.9 379.23 L84.4 379.04 L84.9 378.51 L85.4 378.47 L85.9 378.48 L86.4 378.31 L86.9 378.21 L87.4 378.46 L87.9 378.28 L88.4 378.25 L88.9 378.05 L89.4 378.04 L89.9 377.8 L90.4 377.85 L90.9 377.91 L91.4 377.73 L91.9 377.49 L92.4 377.31 L92.9 377.48 L93.4 377.46 L93.9 377.24 L94.4 377.07 L94.9 377.33 L95.4 377.58 L95.9 377.02 L96.4 376.93 L96.9 376.75 L97.4 376.16 L97.9 376.46 L98.4 376.4 L98.9 376.63 L99.4 376.26 L99.9 376.01 L100.4 376.02 L100.9 376 L101.4 375.79 L101.9 375.72 L102.4 375.42 L102.9 375.55 L103.4 375.77 L103.9 375.92 L104.4 375.6 L104.9 375.41 L105.4 375.48 L105.9 375.43 L106.4 375.45 L106.9 375.22 L107.4 374.88 L107.9 374.83 L108.4 374.76 L108.9 374.7 L109.4 374.57 L109.9 374.24 L110.4 373.92 L110.9 374.03 L111.4 373.85 L111.9 374.16 L112.4 374.11 L112.9 373.81 L113.4 374.18 L113.9 374.24 L114.4 374.1 L114.9 374.36 L115.4 374.28 L115.9 373.7 L116.4 373.95 L116.9 373.88 L117.4 373.82 L117.9 373.8 L118.4 373.44 L118.9 373.33 L119.4 373.24 L119.9 373.22 L120.4 373.25 L120.9 372.96 L121.4 373.01 L121.9 373.29 L122.4 373.19 L122.9 373.1 L123.4 372.64 L123.9 372.73 L124.4 372.8 L124.9 372.85 L125.4 372.76 L125.9 372.95 L126.4 372.76 L126.9 372.68 L127.4 372.66 L127.9 372.7 L128.4 372.5 L128.9 372.7 L129.4 372.57 L129.9 372.41 L130.4 372.34 L130.9 372.41 L131.4 372.48 L131.9 372.41 L132.4 372.26 L132.9 372.25 L133.4 372.11 L133.9 372.21 L134.4 371.85 L134.9 371.47 L135.4 371.99 L135.9 371.77 L136.4 371.45 L136.9 371.51 L137.4 371.5 L137.9 371.98 L138.4 371.64 L138.9 371.18 L139.4 371.45 L139.9 371.4 L140.4 371.67 L140.9 371.05 L141.4 370.73 L141.9 371.1 L142.4 371.08 L142.9 370.92 L143.4 370.63 L143.9 371.11 L144.4 371.29 L144.9 370.69 L145.4 371.06 L145.9 370.92 L146.4 371.33 L146.9 371 L147.4 370.8 L147.9 370.98 L148.4 370.82 L148.9 370.58 L149.4 370.71 L149.9 370.42 L150.4 370.23 L150.9 370.83 L151.4 370.45 L151.9 370.29 L152.4 370.35 L152.9 369.97 L153.4 369.92 L153.9 370.07 L154.4 370.09 L154.9 370.22 L155.4 370.35 L155.9 370.06 L156.4 370.16 L156.9 370.11 L157.4 369.77 L157.9 369.88 L158.4 369.74 L158.9 370.03 L159.4 369.93 L159.9 369.71 L160.4 369.43 L160.9 369.59 L161.4 369.49 L161.9 369.68 L162.4 369.49 L162.9 369.35 L163.4 369.63 L163.9 369.56 L164.4 369.31 L164.9 369.5 L165.4 369.23 L165.9 369.13" fill="none" stroke="#1c1a8c" stroke-width="0.95" stroke-linejoin="round"/>
<path d="M41.4 423.29 L41.9 423.48 L42.4 423.83 L42.9 424.26 L43.4 424.88 L43.9 425.17 L44.4 425.17 L44.9 425.6 L45.4 425.47 L45.9 425.39 L46.4 425.01 L46.9 423.77 L47.4 421.5 L47.9 422.45 L48.4 423.97 L48.9 426.02 L49.4 426.96 L49.9 427.37 L50.4 427.33 L50.9 427.93 L51.4 427.84 L51.9 427.53 L52.4 427.1 L52.9 426.55 L53.4 425.61 L53.9 425.03 L54.4 424.1 L54.9 423.46 L55.4 423.02 L55.9 422.2 L56.4 421.29 L56.9 421.01 L57.4 420.47 L57.9 419.93 L58.4 419.71 L58.9 419.17 L59.4 418.6 L59.9 418.48 L60.4 418.67 L60.9 417.98 L61.4 417.98 L61.9 417.92 L62.4 417.68 L62.9 417.18 L63.4 417.15 L63.9 417.17 L64.4 417.13 L64.9 416.74 L65.4 416.57 L65.9 416.88 L66.4 416.87 L66.9 416.59 L67.4 416.32 L67.9 416.38 L68.4 416.29 L68.9 416.23 L69.4 415.8 L69.9 415.86 L70.4 415.72 L70.9 415.46 L71.4 415.57 L71.9 415.47 L72.4 415.31 L72.9 415.28 L73.4 414.94 L73.9 415.08 L74.4 415.16 L74.9 415.12 L75.4 415.12 L75.9 414.64 L76.4 414.5 L76.9 414.78 L77.4 414.91 L77.9 415.12 L78.4 414.76 L78.9 414.39 L79.4 414.49 L79.9 414.11 L80.4 413.98 L80.9 414.55 L81.4 414.19 L81.9 414.06 L82.4 414.02 L82.9 414.12 L83.4 413.86 L83.9 413.84 L84.4 413.38 L84.9 413.3 L85.4 413.8 L85.9 413.85 L86.4 413.62 L86.9 413.49 L87.4 413.4 L87.9 413.29 L88.4 413.63 L88.9 413.51 L89.4 413.42 L89.9 413.39 L90.4 413.47 L90.9 413.38 L91.4 413.3 L91.9 412.98 L92.4 413.27 L92.9 413.54 L93.4 413.07 L93.9 413.05 L94.4 413.25 L94.9 413.26 L95.4 413.08 L95.9 412.69 L96.4 412.91 L96.9 412.66 L97.4 412.69 L97.9 412.92 L98.4 412.83 L98.9 413.09 L99.4 413.47 L99.9 413.07 L100.4 412.87 L100.9 412.54 L101.4 412.48 L101.9 412.41 L102.4 412.44 L102.9 412.35 L103.4 412.41 L103.9 412.46 L104.4 412.28 L104.9 412.15 L105.4 412.19 L105.9 412.51 L106.4 412.53 L106.9 412.68 L107.4 412.64 L107.9 412.39 L108.4 412.42 L108.9 412.18 L109.4 412.76 L109.9 412.62 L110.4 412.23 L110.9 412.03 L111.4 412.17 L111.9 411.82 L112.4 411.98 L112.9 412.28 L113.4 412.16 L113.9 412.06 L114.4 412.22 L114.9 411.92 L115.4 412.04 L115.9 411.91 L116.4 411.84 L116.9 412 L117.4 411.87 L117.9 412.25 L118.4 411.97 L118.9 412.22 L119.4 411.77 L119.9 411.87 L120.4 411.56 L120.9 411.5 L121.4 411.79 L121.9 411.85 L122.4 411.57 L122.9 411.87 L123.4 411.6 L123.9 411.69 L124.4 411.77 L124.9 411.7 L125.4 411.36 L125.9 411.86 L126.4 411.74 L126.9 411.45 L127.4 411.25 L127.9 411.08 L128.4 411.18 L128.9 411.51 L129.4 411.36 L129.9 411.18 L130.4 411.33 L130.9 411.67 L131.4 411.35 L131.9 411.28 L132.4 411.59 L132.9 411.46 L133.4 411.29 L133.9 411.09 L134.4 410.87 L134.9 410.91 L135.4 411.05 L135.9 411.14 L136.4 411.25 L136.9 411.27 L137.4 411.2 L137.9 411.11 L138.4 410.8 L138.9 410.56 L139.4 410.8 L139.9 410.77 L140.4 410.8 L140.9 410.82 L141.4 410.63 L141.9 410.64 L142.4 410.82 L142.9 410.85 L143.4 410.73 L143.9 410.87 L144.4 410.72 L144.9 410.56 L145.4 410.78 L145.9 411.06 L146.4 410.68 L146.9 410.92 L147.4 411.02 L147.9 410.93 L148.4 410.57 L148.9 410.93 L149.4 410.63 L149.9 410.45 L150.4 410.45 L150.9 410.57 L151.4 410.46 L151.9 410.42 L152.4 410.59 L152.9 410.22 L153.4 410.12 L153.9 410.44 L154.4 410.48 L154.9 410.44 L155.4 410.09 L155.9 410.37 L156.4 410.37 L156.9 410.44 L157.4 409.94 L157.9 410.05 L158.4 409.93 L158.9 409.66 L159.4 409.83 L159.9 410.13 L160.4 409.86 L160.9 409.78 L161.4 410.05 L161.9 410.12 L162.4 410.02 L162.9 409.67 L163.4 409.75 L163.9 409.9 L164.4 409.58 L164.9 409.53 L165.4 409.83 L165.9 409.95" fill="none" stroke="#f51d1d" stroke-width="0.95" stroke-linejoin="round"/>
<path d="M222.8 422.17 L223.3 422.37 L223.8 422.94 L224.3 423.38 L224.8 423.74 L225.3 423.89 L225.8 423.63 L226.3 423.34 L226.8 423.24 L227.3 422.93 L227.8 422.92 L228.3 422.81 L228.8 423.03 L229.3 416.02 L229.8 413.83 L230.3 413.38 L230.8 413.24 L231.3 412.93 L231.8 412.91 L232.3 412.9 L232.8 413.06 L233.3 412.77 L233.8 412.54 L234.3 412.35 L234.8 412.34 L235.3 412.48 L235.8 412.48 L236.3 412.59 L236.8 412.3 L237.3 412.45 L237.8 412.29 L238.3 412.07 L238.8 411.67 L239.3 411.79 L239.8 412.25 L240.3 412.42 L240.8 412.25 L241.3 412.27 L241.8 412.09 L242.3 412.05 L242.8 412.09 L243.3 412.39 L243.8 412.35 L244.3 412.24 L244.8 412.29 L245.3 412.51 L245.8 412.52 L246.3 412.48 L246.8 413 L247.3 412.98 L247.8 413.13 L248.3 413.61 L248.8 413.76 L249.3 413.77 L249.8 413.98 L250.3 413.9 L250.8 414.08 L251.3 414.16 L251.8 414.89 L252.3 414.76 L252.8 415.27 L253.3 415.22 L253.8 415.25 L254.3 415.39 L254.8 415.12 L255.3 414.5 L255.8 413.68 L256.3 412.34 L256.8 411.06 L257.3 409.07 L257.8 407.09 L258.3 404.65 L258.8 401.59 L259.3 398.37 L259.8 395.39 L260.3 392.81 L260.8 390.29 L261.3 387.73 L261.8 385.49 L262.3 383.66 L262.8 381.39 L263.3 379.8 L263.8 378.44 L264.3 376.32 L264.8 375.35 L265.3 374.53 L265.8 373.34 L266.3 372.97 L266.8 371.48 L267.3 371.27 L267.8 370.66 L268.3 369.71 L268.8 368.73 L269.3 368 L269.8 367.13 L270.3 366.63 L270.8 365.69 L271.3 365.19 L271.8 364.77 L272.3 363.86 L272.8 363.36 L273.3 362.87 L273.8 362.15 L274.3 362.01 L274.8 361.37 L275.3 360.55 L275.8 360.27 L276.3 359.77 L276.8 359.41 L277.3 359.18 L277.8 358.8 L278.3 358.71 L278.8 358.22 L279.3 358.16 L279.8 357.79 L280.3 357.61 L280.8 357.12 L281.3 356.8 L281.8 356.51 L282.3 356.61 L282.8 356.57 L283.3 356.55 L283.8 356.17 L284.3 355.69 L284.8 355.37 L285.3 355.24 L285.8 355.04 L286.3 355.09 L286.8 354.78 L287.3 354.23 L287.8 354.09 L288.3 354.28 L288.8 353.98 L289.3 353.72 L289.8 353.76 L290.3 353.36 L290.8 353.15 L291.3 352.91 L291.8 352.58 L292.3 352.84 L292.8 352.44 L293.3 352.33 L293.8 352.26 L294.3 352.38 L294.8 352.16 L295.3 351.96 L295.8 351.58 L296.3 351.65 L296.8 351.42 L297.3 351.61 L297.8 351.59 L298.3 351.51 L298.8 351.75 L299.3 351.45 L299.8 351.3 L300.3 351.12 L300.8 351.01 L301.3 351.15 L301.8 351.05 L302.3 350.62 L302.8 350.89 L303.3 350.83 L303.8 350.81 L304.3 350.6 L304.8 350.19 L305.3 350.2 L305.8 350.67 L306.3 350.37 L306.8 349.99 L307.3 350.19 L307.8 350.01 L308.3 349.63 L308.8 349.46 L309.3 349.61 L309.8 349.95 L310.3 349.91 L310.8 349.84 L311.3 349.9 L311.8 349.83 L312.3 349.35 L312.8 349.52 L313.3 349.43 L313.8 349.32 L314.3 349.41 L314.8 349.47 L315.3 349.36 L315.8 349.11 L316.3 349.31 L316.8 349.66 L317.3 349.09 L317.8 348.86 L318.3 349.18 L318.8 349.27 L319.3 349.14 L319.8 348.86 L320.3 349.08 L320.8 348.75 L321.3 348.57 L321.8 348.63 L322.3 348.73 L322.8 348.85 L323.3 348.79 L323.8 348.64 L324.3 348.71 L324.8 348.57 L325.3 348.54 L325.8 348.06 L326.3 347.98 L326.8 348.29 L327.3 347.96 L327.8 348.04 L328.3 348.06 L328.8 347.94 L329.3 347.96 L329.8 348.11 L330.3 347.52 L330.8 348.04 L331.3 348.32 L331.8 347.88 L332.3 347.77 L332.8 347.91 L333.3 347.99 L333.8 347.45 L334.3 347.52 L334.8 347.51 L335.3 347.58 L335.8 347.51 L336.3 347.51 L336.8 347.29 L337.3 347.27 L337.8 347.11 L338.3 347.06 L338.8 347.12 L339.3 347.06 L339.8 346.93 L340.3 347.31 L340.8 347 L341.3 346.75 L341.8 347.07 L342.3 346.83 L342.8 346.93 L343.3 346.86 L343.8 346.85 L344.3 346.77 L344.8 346.61 L345.3 346.75 L345.8 346.95 L346.3 346.26 L346.8 346.51 L347.3 346.58 L347.8 346.32" fill="none" stroke="#1c1a8c" stroke-width="0.95" stroke-linejoin="round"/>
<path d="M222.8 420.98 L223.3 423.05 L223.8 421.49 L224.3 422.92 L224.8 421.96 L225.3 421.66 L225.8 421.89 L226.3 421.98 L226.8 422.31 L227.3 421.86 L227.8 421.69 L228.3 421.71 L228.8 422.41 L229.3 419.05 L229.8 417.39 L230.3 417.6 L230.8 418.16 L231.3 417.58 L231.8 417.72 L232.3 417.37 L232.8 417.78 L233.3 418.18 L233.8 418.52 L234.3 417.92 L234.8 419.16 L235.3 417.86 L235.8 419.82 L236.3 418.51 L236.8 418.2 L237.3 417.6 L237.8 416.21 L238.3 417.81 L238.8 418.01 L239.3 419.05 L239.8 417.07 L240.3 419.05 L240.8 417.76 L241.3 418.37 L241.8 416.44 L242.3 418.08 L242.8 417.83 L243.3 418.49 L243.8 418.18 L244.3 417.49 L244.8 418.8 L245.3 418.7 L245.8 418.69 L246.3 418.99 L246.8 419.09 L247.3 418.46 L247.8 417.7 L248.3 417.72 L248.8 419.38 L249.3 419.02 L249.8 418.66 L250.3 418.34 L250.8 418.62 L251.3 418.61 L251.8 418.39 L252.3 418.16 L252.8 419.87 L253.3 418.7 L253.8 418.19 L254.3 417.76 L254.8 418.09 L255.3 418.94 L255.8 418.95 L256.3 418.36 L256.8 418.5 L257.3 418.28 L257.8 417.78 L258.3 419.22 L258.8 418.65 L259.3 419.9 L259.8 417.95 L260.3 418.31 L260.8 418.92 L261.3 418.23 L261.8 417.54 L262.3 417.79 L262.8 418.42 L263.3 418.55 L263.8 418.28 L264.3 418.94 L264.8 418.92 L265.3 418.51 L265.8 418.33 L266.3 418.15 L266.8 418.63 L267.3 418.84 L267.8 418.32 L268.3 418.55 L268.8 418.08 L269.3 417.42 L269.8 417.66 L270.3 418.71 L270.8 418.52 L271.3 419.2 L271.8 418.27 L272.3 418.75 L272.8 419.02 L273.3 418.81 L273.8 417.85 L274.3 418.1 L274.8 418.28 L275.3 417.6 L275.8 418.47 L276.3 418.8 L276.8 417.89 L277.3 419.35 L277.8 417.99 L278.3 418.04 L278.8 418.01 L279.3 417.72 L279.8 418.39 L280.3 418.15 L280.8 419.12 L281.3 418.49 L281.8 418.44 L282.3 417.98 L282.8 417.25 L283.3 418.04 L283.8 417.58 L284.3 418.65 L284.8 418.06 L285.3 419.07 L285.8 418.5 L286.3 418.56 L286.8 418.19 L287.3 418.17 L287.8 418.43 L288.3 418.58 L288.8 417.59 L289.3 418.31 L289.8 419.58 L290.3 417.94 L290.8 417.83 L291.3 417.56 L291.8 417.1 L292.3 418.68 L292.8 417.99 L293.3 418.13 L293.8 419.05 L294.3 419.44 L294.8 417.39 L295.3 418.55 L295.8 418.28 L296.3 418.14 L296.8 418.18 L297.3 417.87 L297.8 418.83 L298.3 418.24 L298.8 418.07 L299.3 418.6 L299.8 418.38 L300.3 418.11 L300.8 418.02 L301.3 418.87 L301.8 418.12 L302.3 417.75 L302.8 417.28 L303.3 417.58 L303.8 417.15 L304.3 417.83 L304.8 417.91 L305.3 416.52 L305.8 417.75 L306.3 418.12 L306.8 417.82 L307.3 417.14 L307.8 418.46 L308.3 417.27 L308.8 416.94 L309.3 417.02 L309.8 417.65 L310.3 418.24 L310.8 418.34 L311.3 417.75 L311.8 416.9 L312.3 417.21 L312.8 417.05 L313.3 417.47 L313.8 416.5 L314.3 417.62 L314.8 417.93 L315.3 417.44 L315.8 417.79 L316.3 416.94 L316.8 416.62 L317.3 417.1 L317.8 418.16 L318.3 418.07 L318.8 417.16 L319.3 418.14 L319.8 417.21 L320.3 418.3 L320.8 417.67 L321.3 417.09 L321.8 417.82 L322.3 416.86 L322.8 416.75 L323.3 416.42 L323.8 417.42 L324.3 417.22 L324.8 417.18 L325.3 416.96 L325.8 418.05 L326.3 416.91 L326.8 416.71 L327.3 417.86 L327.8 417.95 L328.3 417.27 L328.8 416 L329.3 416.66 L329.8 417.36 L330.3 416.98 L330.8 417.87 L331.3 416.09 L331.8 417.29 L332.3 416.48 L332.8 417.62 L333.3 416.75 L333.8 417.39 L334.3 416.35 L334.8 415.86 L335.3 416.01 L335.8 416.28 L336.3 416 L336.8 417.3 L337.3 417.35 L337.8 416.68 L338.3 415.86 L338.8 416.38 L339.3 416.01 L339.8 417.26 L340.3 416.54 L340.8 416.61 L341.3 416.04 L341.8 415.04 L342.3 415.75 L342.8 415.5 L343.3 416.36 L343.8 416.16 L344.3 415.59 L344.8 415.8 L345.3 416.93 L345.8 415.38 L346.3 415.37 L346.8 415.75 L347.3 415.43 L347.8 415.55" fill="none" stroke="#f01010" stroke-width="1" stroke-linejoin="round"/>
<path d="M41.4 576.59 L41.9 576.7 L42.4 576.09 L42.9 576.28 L43.4 576.34 L43.9 576.28 L44.4 576.2 L44.9 576.18 L45.4 576.32 L45.9 575.97 L46.4 575.8 L46.9 575.57 L47.4 574.05 L47.9 572.21 L48.4 573.63 L48.9 575.34 L49.4 576.16 L49.9 576.7 L50.4 576.75 L50.9 576.45 L51.4 575.83 L51.9 575.26 L52.4 573.99 L52.9 572.56 L53.4 571.06 L53.9 568.94 L54.4 566.37 L54.9 564.74 L55.4 562.65 L55.9 560.8 L56.4 559.25 L56.9 557.42 L57.4 555.87 L57.9 554.99 L58.4 553.3 L58.9 552.33 L59.4 551.48 L59.9 550.22 L60.4 549.44 L60.9 548.78 L61.4 548.18 L61.9 546.72 L62.4 545.9 L62.9 545.21 L63.4 544.25 L63.9 543.27 L64.4 542.85 L64.9 542.27 L65.4 541.83 L65.9 541.49 L66.4 540.99 L66.9 540.41 L67.4 539.88 L67.9 539.23 L68.4 539.01 L68.9 538.75 L69.4 538.32 L69.9 538.04 L70.4 537.67 L70.9 537.87 L71.4 537.71 L71.9 536.98 L72.4 536.74 L72.9 536.47 L73.4 536.48 L73.9 536.13 L74.4 535.78 L74.9 535.5 L75.4 535.3 L75.9 534.96 L76.4 535 L76.9 534.65 L77.4 534.64 L77.9 534.47 L78.4 534.42 L78.9 534.09 L79.4 533.99 L79.9 533.52 L80.4 533.54 L80.9 533.27 L81.4 533.15 L81.9 533.01 L82.4 532.88 L82.9 532.25 L83.4 532.36 L83.9 532.06 L84.4 532.25 L84.9 531.61 L85.4 531.5 L85.9 531.43 L86.4 531.84 L86.9 531.33 L87.4 531.36 L87.9 531.13 L88.4 530.81 L88.9 531.01 L89.4 531.16 L89.9 531 L90.4 531.06 L90.9 530.77 L91.4 530.7 L91.9 530.59 L92.4 530.72 L92.9 530.94 L93.4 530.61 L93.9 530.4 L94.4 530.15 L94.9 530.11 L95.4 530.38 L95.9 529.88 L96.4 529.77 L96.9 529.86 L97.4 529.86 L97.9 530.08 L98.4 529.33 L98.9 529.65 L99.4 529.7 L99.9 529.28 L100.4 529.28 L100.9 529.51 L101.4 529.63 L101.9 529.05 L102.4 528.84 L102.9 529.31 L103.4 529.39 L103.9 528.87 L104.4 528.5 L104.9 529.04 L105.4 528.86 L105.9 528.95 L106.4 528.69 L106.9 528.51 L107.4 528.51 L107.9 528.85 L108.4 528.71 L108.9 527.96 L109.4 528.13 L109.9 528.6 L110.4 528.18 L110.9 527.89 L111.4 528.09 L111.9 528.08 L112.4 528.02 L112.9 527.91 L113.4 527.88 L113.9 527.85 L114.4 527.92 L114.9 527.7 L115.4 527.73 L115.9 527.81 L116.4 528.05 L116.9 527.86 L117.4 527.71 L117.9 527.78 L118.4 527.77 L118.9 527.85 L119.4 527.77 L119.9 527.96 L120.4 527.82 L120.9 527.45 L121.4 527.33 L121.9 527.52 L122.4 527.43 L122.9 527.18 L123.4 526.8 L123.9 526.72 L124.4 527.14 L124.9 527.28 L125.4 527.16 L125.9 526.79 L126.4 527.06 L126.9 526.83 L127.4 526.91 L127.9 526.86 L128.4 526.56 L128.9 526.44 L129.4 526.14 L129.9 526.23 L130.4 526.15 L130.9 526.52 L131.4 526.53 L131.9 526.62 L132.4 526.45 L132.9 526.21 L133.4 526.29 L133.9 526.18 L134.4 526.3 L134.9 526.18 L135.4 525.89 L135.9 525.99 L136.4 525.99 L136.9 525.92 L137.4 526.15 L137.9 526.24 L138.4 525.79 L138.9 525.57 L139.4 525.23 L139.9 525.53 L140.4 525.44 L140.9 525.13 L141.4 525.54 L141.9 525.61 L142.4 525.32 L142.9 525.27 L143.4 525.2 L143.9 525.39 L144.4 525 L144.9 525.21 L145.4 525.61 L145.9 525.29 L146.4 525.23 L146.9 525.03 L147.4 524.8 L147.9 524.97 L148.4 525.01 L148.9 524.74 L149.4 524.97 L149.9 525.17 L150.4 525.01 L150.9 524.43 L151.4 524.37 L151.9 524.34 L152.4 524.81 L152.9 524.79 L153.4 524.68 L153.9 524.29 L154.4 524.17 L154.9 524.38 L155.4 524.35 L155.9 524.15 L156.4 524.29 L156.9 524.38 L157.4 524.21 L157.9 523.83 L158.4 523.59 L158.9 523.9 L159.4 524.01 L159.9 523.88 L160.4 523.77 L160.9 523.72 L161.4 523.92 L161.9 523.79 L162.4 523.69 L162.9 523.44 L163.4 523.45 L163.9 523.53 L164.4 523.26 L164.9 523.14 L165.4 523.35 L165.9 523.62 L166.4 523.48 L166.9 523.58 L167.4 523.24 L167.9 523.04 L168.4 522.79 L168.9 522.95 L169.4 523.3" fill="none" stroke="#1c1a8c" stroke-width="0.95" stroke-linejoin="round"/>
<path d="M41.4 577.49 L41.9 577.53 L42.4 577.46 L42.9 577.28 L43.4 577.2 L43.9 577.26 L44.4 577.36 L44.9 577.34 L45.4 577.32 L45.9 577.22 L46.4 577.06 L46.9 577.18 L47.4 577.28 L47.9 577.69 L48.4 577.47 L48.9 578.15 L49.4 579.55 L49.9 580.11 L50.4 580.41 L50.9 580.94 L51.4 581.17 L51.9 580.34 L52.4 579.53 L52.9 578.21 L53.4 576.85 L53.9 576.24 L54.4 574.68 L54.9 573.41 L55.4 572.48 L55.9 571.79 L56.4 571.07 L56.9 570.39 L57.4 569.53 L57.9 568.64 L58.4 568.34 L58.9 567.73 L59.4 567.18 L59.9 566.55 L60.4 566.26 L60.9 565.91 L61.4 565.61 L61.9 565.08 L62.4 565 L62.9 564.73 L63.4 564.24 L63.9 564.03 L64.4 563.86 L64.9 563.84 L65.4 563.14 L65.9 563.17 L66.4 562.88 L66.9 562.94 L67.4 563.02 L67.9 562.67 L68.4 562.57 L68.9 562.4 L69.4 562.74 L69.9 562.56 L70.4 562.36 L70.9 561.81 L71.4 561.76 L71.9 562.07 L72.4 561.84 L72.9 561.73 L73.4 561.72 L73.9 561.45 L74.4 561.7 L74.9 561.6 L75.4 561.56 L75.9 561.35 L76.4 561.44 L76.9 561.28 L77.4 561.52 L77.9 561.57 L78.4 561.48 L78.9 561.37 L79.4 561.2 L79.9 560.66 L80.4 561.14 L80.9 561.05 L81.4 561.03 L81.9 560.9 L82.4 560.67 L82.9 560.82 L83.4 561.09 L83.9 561.18 L84.4 560.77 L84.9 560.71 L85.4 561.04 L85.9 560.78 L86.4 561.15 L86.9 560.82 L87.4 560.61 L87.9 560.94 L88.4 561.01 L88.9 560.53 L89.4 560.88 L89.9 560.7 L90.4 560.87 L90.9 560.51 L91.4 560.26 L91.9 560.62 L92.4 560.81 L92.9 561.02 L93.4 560.93 L93.9 560.66 L94.4 560.39 L94.9 560.29 L95.4 560.27 L95.9 560.17 L96.4 560.14 L96.9 559.81 L97.4 560.21 L97.9 560.37 L98.4 560.76 L98.9 560.44 L99.4 560.14 L99.9 560.19 L100.4 559.88 L100.9 559.84 L101.4 559.73 L101.9 560.26 L102.4 560.14 L102.9 559.78 L103.4 559.94 L103.9 560.14 L104.4 560.06 L104.9 559.94 L105.4 559.68 L105.9 559.68 L106.4 559.85 L106.9 559.95 L107.4 559.61 L107.9 559.55 L108.4 559.88 L108.9 559.64 L109.4 559.89 L109.9 559.83 L110.4 559.94 L110.9 560.08 L111.4 559.9 L111.9 559.8 L112.4 559.47 L112.9 559.49 L113.4 559.79 L113.9 560.01 L114.4 560.05 L114.9 560.13 L115.4 559.76 L115.9 559.69 L116.4 559.79 L116.9 559.62 L117.4 559.51 L117.9 559.39 L118.4 559.66 L118.9 559.4 L119.4 559.53 L119.9 559.31 L120.4 559.63 L120.9 559.38 L121.4 559.55 L121.9 559.19 L122.4 559.36 L122.9 559.63 L123.4 559.34 L123.9 559.39 L124.4 559.22 L124.9 558.94 L125.4 559.36 L125.9 559.42 L126.4 559.17 L126.9 559.36 L127.4 559.14 L127.9 559.07 L128.4 559.21 L128.9 559.22 L129.4 559.6 L129.9 559.05 L130.4 559.32 L130.9 559.33 L131.4 558.75 L131.9 558.75 L132.4 559.14 L132.9 559.05 L133.4 559.19 L133.9 559.29 L134.4 558.97 L134.9 558.68 L135.4 558.43 L135.9 558.87 L136.4 558.8 L136.9 558.97 L137.4 558.92 L137.9 558.7 L138.4 559.2 L138.9 559.17 L139.4 558.99 L139.9 558.6 L140.4 558.64 L140.9 558.63 L141.4 558.59 L141.9 558.51 L142.4 558.75 L142.9 558.76 L143.4 558.72 L143.9 558.61 L144.4 558.86 L144.9 558.58 L145.4 558.03 L145.9 558.32 L146.4 558.55 L146.9 558.7 L147.4 558.48 L147.9 558.4 L148.4 558.35 L148.9 558.53 L149.4 558.34 L149.9 558.24 L150.4 558.24 L150.9 558.42 L151.4 558.2 L151.9 558 L152.4 558.33 L152.9 558.19 L153.4 558.32 L153.9 558.39 L154.4 558.52 L154.9 558.44 L155.4 558.11 L155.9 558.06 L156.4 557.96 L156.9 558.42 L157.4 558.32 L157.9 558.36 L158.4 557.97 L158.9 557.69 L159.4 558.24 L159.9 558.09 L160.4 558.02 L160.9 558.01 L161.4 558.09 L161.9 557.99 L162.4 557.66 L162.9 558 L163.4 557.78 L163.9 557.8 L164.4 558.18 L164.9 558.04 L165.4 557.67 L165.9 557.38 L166.4 557.71 L166.9 557.82 L167.4 557.65 L167.9 557.39 L168.4 557.39 L168.9 557.36 L169.4 557.6" fill="none" stroke="#f51d1d" stroke-width="0.95" stroke-linejoin="round"/>
<path d="M226.5 577.78 L227 578.01 L227.5 577.92 L228 578.15 L228.5 578.27 L229 578.13 L229.5 578.21 L230 578.46 L230.5 578.09 L231 577.86 L231.5 577.36 L232 573.29 L232.5 570.31 L233 570.78 L233.5 571.5 L234 572.2 L234.5 572.63 L235 572.99 L235.5 573.21 L236 573.37 L236.5 573.73 L237 574.09 L237.5 574.19 L238 574.6 L238.5 574.49 L239 574.46 L239.5 574.65 L240 574.62 L240.5 574.72 L241 575.04 L241.5 574.79 L242 574.67 L242.5 574.63 L243 574.36 L243.5 573.73 L244 573.13 L244.5 571.88 L245 570.54 L245.5 569.32 L246 567.87 L246.5 566.71 L247 565.6 L247.5 564.42 L248 563.01 L248.5 561.84 L249 560.88 L249.5 559.79 L250 558.53 L250.5 557.37 L251 555.98 L251.5 554.88 L252 553.96 L252.5 552.94 L253 552.1 L253.5 551.58 L254 550.52 L254.5 549.62 L255 549.17 L255.5 548.7 L256 547.81 L256.5 547.21 L257 546.31 L257.5 545.59 L258 544.94 L258.5 544.48 L259 544.12 L259.5 543.18 L260 542.87 L260.5 541.97 L261 541.48 L261.5 541.14 L262 540.6 L262.5 539.93 L263 539.14 L263.5 538.86 L264 538.33 L264.5 538.31 L265 537.49 L265.5 536.93 L266 536.26 L266.5 535.83 L267 535.35 L267.5 535.22 L268 534.68 L268.5 534.31 L269 533.71 L269.5 533.35 L270 533.2 L270.5 532.45 L271 531.94 L271.5 531.87 L272 531.36 L272.5 531.12 L273 530.97 L273.5 530.44 L274 530.28 L274.5 529.83 L275 529.83 L275.5 529.51 L276 528.9 L276.5 528.57 L277 528.23 L277.5 528.16 L278 528.02 L278.5 527.46 L279 527.47 L279.5 526.97 L280 526.74 L280.5 526.54 L281 526.93 L281.5 526.55 L282 526.29 L282.5 526.04 L283 526.03 L283.5 525.46 L284 525.64 L284.5 525.85 L285 525.34 L285.5 525.19 L286 525.12 L286.5 524.77 L287 524.74 L287.5 524.76 L288 524.51 L288.5 524.34 L289 524.09 L289.5 524.01 L290 523.89 L290.5 523.95 L291 523.68 L291.5 523.25 L292 522.8 L292.5 523.12 L293 523.03 L293.5 522.55 L294 522.19 L294.5 522.23 L295 522.41 L295.5 522.02 L296 521.94 L296.5 521.99 L297 522.01 L297.5 521.7 L298 521.5 L298.5 521.38 L299 521.6 L299.5 521.43 L300 521.04 L300.5 520.69 L301 520.69 L301.5 520.8 L302 520.58 L302.5 520.69 L303 520.56 L303.5 520.44 L304 520.4 L304.5 520.24 L305 519.92 L305.5 519.97 L306 520.23 L306.5 519.65 L307 519.61 L307.5 519.77 L308 519.5 L308.5 519.23 L309 519.1 L309.5 519.33 L310 519.41 L310.5 519.35 L311 519.07 L311.5 519.02 L312 518.65 L312.5 518.66 L313 518.5 L313.5 518.54 L314 518.6 L314.5 518.51 L315 518.15 L315.5 518.32 L316 517.99 L316.5 517.77 L317 517.76 L317.5 517.54 L318 517.68 L318.5 517.68 L319 517.55 L319.5 517.55 L320 517.36 L320.5 517.26 L321 517 L321.5 517.1 L322 516.94 L322.5 516.93 L323 516.95 L323.5 516.88 L324 516.51 L324.5 516.45 L325 516.65 L325.5 516.78 L326 516.75 L326.5 516.81 L327 516.82 L327.5 516.63 L328 516.43 L328.5 516.19 L329 516.14 L329.5 516.21 L330 516.31 L330.5 516.28 L331 516.2 L331.5 516.15 L332 516.23 L332.5 516.15 L333 516.11 L333.5 516.05 L334 515.85 L334.5 515.75 L335 515.97 L335.5 515.95 L336 515.8 L336.5 515.81 L337 516.13 L337.5 515.69 L338 515.66 L338.5 515.68 L339 515.47 L339.5 515.67 L340 515.95 L340.5 515.83 L341 515.71 L341.5 515.65 L342 515.57 L342.5 515.63 L343 515.43 L343.5 515.34 L344 515.43 L344.5 515.54 L345 515.46 L345.5 515.37 L346 515.01 L346.5 515.49 L347 515.75 L347.5 515.54 L348 515.17 L348.5 515.03 L349 515.14 L349.5 515.01 L350 515.2 L350.5 515.08 L351 515.29 L351.5 515.27 L352 514.76 L352.5 514.99 L353 514.86 L353.5 514.74" fill="none" stroke="#1c1a8c" stroke-width="0.95" stroke-linejoin="round"/>
<path d="M226.5 576.43 L227 576.75 L227.5 577.55 L228 576.06 L228.5 577.62 L229 578.21 L229.5 577.35 L230 577.3 L230.5 576.92 L231 576.15 L231.5 577.07 L232 576.83 L232.5 571.86 L233 572.48 L233.5 571.32 L234 571.08 L234.5 571.72 L235 569.94 L235.5 570.03 L236 570.46 L236.5 570.27 L237 571.06 L237.5 570.44 L238 571.67 L238.5 571.53 L239 571.07 L239.5 570.37 L240 570.97 L240.5 571.08 L241 569.95 L241.5 570.79 L242 571.01 L242.5 570.71 L243 571.52 L243.5 571.3 L244 570.07 L244.5 570.64 L245 570.06 L245.5 570.91 L246 570.04 L246.5 571.11 L247 570.79 L247.5 571.13 L248 570.46 L248.5 569.67 L249 571.61 L249.5 570.44 L250 571.37 L250.5 570.8 L251 570.94 L251.5 571.64 L252 570.74 L252.5 571.38 L253 569.64 L253.5 571.05 L254 570.39 L254.5 570.45 L255 570.53 L255.5 570.73 L256 571.52 L256.5 569.41 L257 570.54 L257.5 570.09 L258 571.21 L258.5 570.26 L259 570.78 L259.5 570.27 L260 570.9 L260.5 571.11 L261 570.25 L261.5 570.52 L262 569.63 L262.5 570.66 L263 570.99 L263.5 570.13 L264 571.13 L264.5 569.21 L265 569.34 L265.5 569.61 L266 570.15 L266.5 570.44 L267 570.38 L267.5 570.38 L268 570.85 L268.5 570.12 L269 569.64 L269.5 569.64 L270 571.65 L270.5 568.96 L271 570.26 L271.5 571.23 L272 570.64 L272.5 569.84 L273 570.33 L273.5 570.84 L274 571.04 L274.5 569.77 L275 570.75 L275.5 570.44 L276 570.94 L276.5 571.1 L277 570.05 L277.5 569.38 L278 570.48 L278.5 571.3 L279 570.63 L279.5 570.35 L280 571.64 L280.5 569.57 L281 570.72 L281.5 569.83 L282 570.19 L282.5 570.2 L283 571.04 L283.5 569.56 L284 569.78 L284.5 569.13 L285 570.37 L285.5 569.79 L286 570.3 L286.5 569.39 L287 569.8 L287.5 570.62 L288 569.88 L288.5 570.34 L289 570.27 L289.5 569.72 L290 568.98 L290.5 570.49 L291 569.99 L291.5 570.46 L292 568.64 L292.5 568.84 L293 568.53 L293.5 569.27 L294 570.41 L294.5 570.11 L295 569.73 L295.5 569.81 L296 570.17 L296.5 569.52 L297 569.92 L297.5 569.75 L298 568.34 L298.5 569.41 L299 570.44 L299.5 569.38 L300 569.51 L300.5 569.22 L301 569.28 L301.5 570.24 L302 569.39 L302.5 568.92 L303 567.66 L303.5 569.17 L304 568.32 L304.5 568.4 L305 569.96 L305.5 569.89 L306 568.31 L306.5 569.96 L307 569.71 L307.5 568.96 L308 569.86 L308.5 568.43 L309 568.67 L309.5 568.52 L310 568.71 L310.5 569.89 L311 568.55 L311.5 568.65 L312 568.76 L312.5 569.44 L313 569.11 L313.5 569.82 L314 568.87 L314.5 568.51 L315 568.97 L315.5 569.29 L316 568.69 L316.5 569.41 L317 570.32 L317.5 568.87 L318 569.24 L318.5 570.01 L319 568.8 L319.5 568.67 L320 568.51 L320.5 569.39 L321 569.45 L321.5 569.04 L322 569.14 L322.5 569.87 L323 569.61 L323.5 568.24 L324 569.06 L324.5 569.11 L325 569.47 L325.5 568.89 L326 568.62 L326.5 568.72 L327 567.91 L327.5 568.95 L328 568.59 L328.5 569.21 L329 568.3 L329.5 568.64 L330 568.29 L330.5 568.22 L331 569.27 L331.5 568.55 L332 569.07 L332.5 568.12 L333 568.83 L333.5 567.73 L334 568.44 L334.5 568.4 L335 569.03 L335.5 568.77 L336 568.53 L336.5 569.11 L337 568.7 L337.5 568.89 L338 569 L338.5 568.47 L339 568.31 L339.5 568.66 L340 568.18 L340.5 568.64 L341 569.04 L341.5 568.86 L342 568.09 L342.5 567.52 L343 568.23 L343.5 568.16 L344 568.87 L344.5 567.95 L345 568.02 L345.5 568.56 L346 567.8 L346.5 567.96 L347 569.05 L347.5 568.88 L348 568.33 L348.5 568.09 L349 567.31 L349.5 568.19 L350 567.86 L350.5 567.93 L351 567.45 L351.5 567.72 L352 567.58 L352.5 567.85 L353 568.48 L353.5 567.81" fill="none" stroke="#f01010" stroke-width="1" stroke-linejoin="round"/>
</svg>
</body></html>
